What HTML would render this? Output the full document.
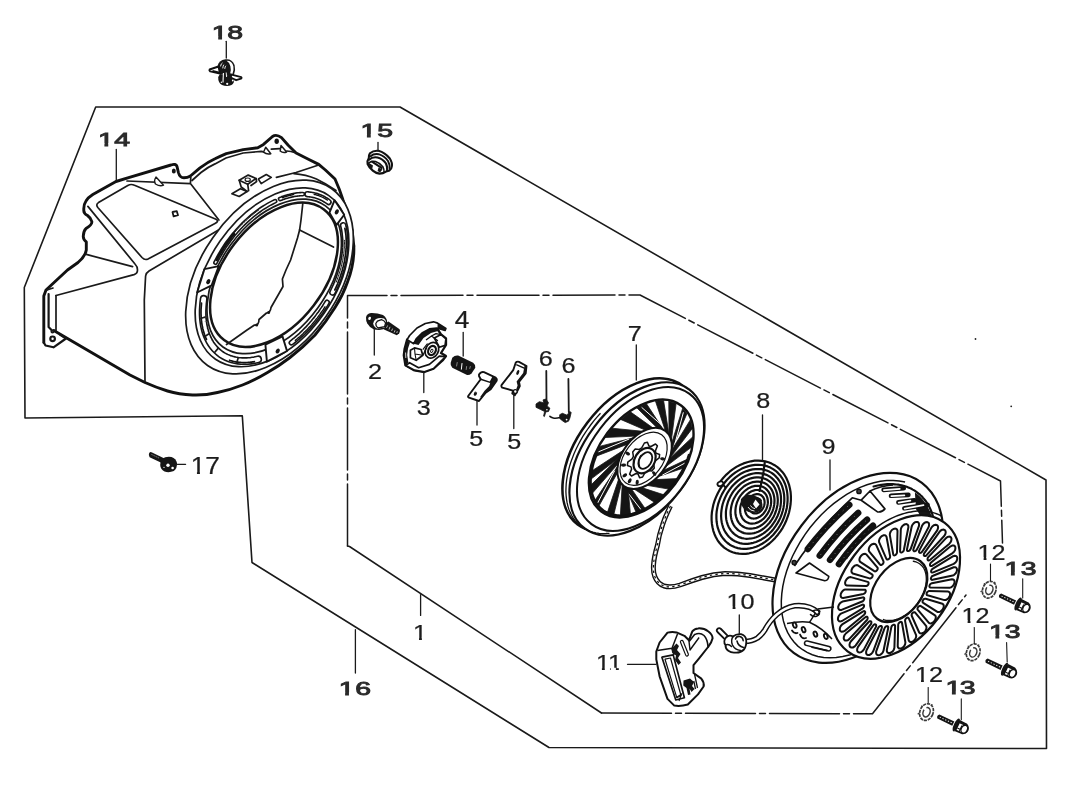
<!DOCTYPE html>
<html><head><meta charset="utf-8"><title>Recoil starter parts diagram</title>
<style>
html,body{margin:0;padding:0;background:#fff;}
body{width:1079px;height:799px;overflow:hidden;font-family:"Liberation Sans",sans-serif;}
svg{display:block;filter:grayscale(1);}
svg text{font-family:"Liberation Sans",sans-serif;fill:#1c1c1c;}
.l{fill:none;stroke:#1a1a1a;stroke-width:1.7;stroke-linecap:round;stroke-linejoin:round;}
.t{fill:none;stroke:#111;stroke-width:2.9;stroke-linecap:round;stroke-linejoin:round;}
.m{fill:none;stroke:#151515;stroke-width:2.2;stroke-linecap:round;stroke-linejoin:round;}
.h{fill:none;stroke:#222;stroke-width:0.9;stroke-linecap:round;stroke-linejoin:round;}
.f{fill:#151515;stroke:none;}
.w{fill:#fff;stroke:#1a1a1a;stroke-width:1.2;stroke-linejoin:round;}
</style></head>
<body>
<svg width="1079" height="799" viewBox="0 0 1079 799">
<rect x="0" y="0" width="1079" height="799" fill="#ffffff"/>
<!-- 00_borders.py -->
<path class="l" style="stroke-width:1.6" d="M95.7 107 L400 107 L1046 480 L1046.5 748.5 L549 747.5 L252 562.5 L242.3 415.8 L25 418 L24.3 287.5 Z"/>
<path class="l" style="stroke-width:1.5" stroke-dasharray="62 4 6 4" d="M347.5 546 L347.5 295.5 L640 295 L1000.5 481 L1002.5 543"/>
<path class="l" style="stroke-width:1.5" d="M347.5 546 L349.5 546.5 L601.5 713"/>
<path class="l" style="stroke-width:1.5" stroke-dasharray="70 4 6 4" d="M601.5 713 L872.5 713.8 L966 595"/>
<circle cx="975.5" cy="339" r="0.9" fill="#222"/><circle cx="1011.2" cy="406.3" r="0.9" fill="#222"/>
<!-- 10_housing.py -->
<path class="t" d="M43.8 342.5 L43.8 296 L46 290 L67.5 270 L78 262.5 Q85.5 256 86.3 250 L86.3 242 Q83 239.5 83.3 236 Q83.5 231 86 228.5 Q92.5 224.5 91.8 221.5 Q91 218 87.5 215.5 Q83.5 213.5 83.8 210 Q83.5 204.5 86 201 Q88 197.5 92.8 194.5 L116 181.5 L128.6 177.6 L171 165 Q176 163.3 177 166.5 L178.4 172.5 Q179.8 177.8 184 177.8 Q187.5 177.8 190.4 176 L200 167.8 Q208 162 215 158.8 Q220 156.3 226.3 153.6 L243.2 149.6 L257.8 147.7 L263.5 144.4 L272.5 136.5 Q276.4 133.8 281.5 137.6 L288.2 145.3 L296.1 153 L307.4 158.8 L318.7 164.4 L325.4 170 L335 179 Q340 190 343 200 L348 215 L352 230 L353.8 246"/>
<path class="t" d="M353.8 246 Q354.5 264 347.5 282 Q343 295 335 307.5 Q326 322 315 335 Q303 347.5 290 357.5 Q279 366 267.5 372.5 Q255 380 242.5 385 Q230 390 217.5 392.5 Q205 395.5 192.5 395 Q179 394.5 167.5 391 Q155 387 145 382.5 L130 375 L53.8 330.5"/>
<path class="m" d="M43.8 342.5 L45.5 345.5 L53.5 347.3 L66 338.5 L60 334.5"/>
<path class="m" d="M48.6 294 L48.6 327 L52 330.5"/><path class="l" d="M56 295.5 L56 330.5 L53.8 330.5"/>
<circle cx="52.6" cy="338.8" r="2.3" class="m"/><circle cx="52.5" cy="331.5" r="1.2" class="l"/>
<path class="l" d="M56 295.5 L134 274.6 Q137.5 273.5 137.5 270 Q137.5 266.5 135 264 L87.9 206.4"/>
<path class="l" d="M86.3 254.4 L132.6 266.6 M47 290 L53 288"/>
<path class="l" d="M145 381.5 L144.3 300 L145.6 276 Q146 272.8 149 271 L218.5 230"/>
<path class="l" d="M98.5 202.6 Q95.5 204.5 97.8 207.5 L142 257.5 Q144.8 260.5 148 259 L215 223.6 Q219.5 221.2 216 219.2 L134.5 185.3 Q131 183.6 127.8 185.5 Z"/>
<path class="l" d="M127 181 L190.4 183.6 L218.9 220 M190.4 183.6 L190.8 177"/>
<path d="M156 177 L163.5 185.2 Q160 186.8 155.5 184 Q153.5 181 156 177 Z" style="fill:#fff;stroke:#1a1a1a;stroke-width:1.4;stroke-linejoin:round"/>
<ellipse cx="173.8" cy="171" rx="2" ry="2.6" class="f"/>
<path d="M172.5 212 L176.8 211.2 L178 215.2 L173.6 216.4 Z" style="fill:none;stroke:#151515;stroke-width:1.8;stroke-linejoin:round"/>
<path class="l" d="M192 180.5 L201 172.5 Q208 167 215 163.9 L226 158 L243.2 153 L261.2 151.3 L263.5 151.8"/>
<path class="l" d="M271.3 149.2 L279.8 148.7 M286.8 151 L291 151.5 L296.1 153"/>
<path d="M265.7 147.3 L270.8 153.7 Q267 155 263.5 152.2 Z" style="fill:#fff;stroke:#1a1a1a;stroke-width:1.5;stroke-linejoin:round"/>
<path d="M281 145.6 L286.6 152 Q283 153.3 280.2 151 Z" style="fill:#fff;stroke:#1a1a1a;stroke-width:1.5;stroke-linejoin:round"/>
<ellipse cx="276.7" cy="141.3" rx="2.2" ry="2.7" class="f"/>
<path class="l" d="M276.4 177.4 L296 172.5 L318.7 165"/>
<path class="l" d="M293.9 173.6 Q306 174.5 316.4 179 Q326 183.5 336 190.5"/>
<path class="l" d="M231.9 193.7 L240.4 188.7 L247.1 191.5 L239.2 196.5 Z"/>
<path class="l" d="M258.4 179.1 L266.3 174.6 L271.3 177.4 L261.2 183.6 Z"/>
<path class="l" style="fill:#fff" d="M239.2 180.2 L248.2 175.1 L256.1 178.5 L247.7 184.2 Z"/>
<path class="l" d="M239.2 180.2 L241.2 187 L247.1 191.5 L248.6 190.6 L247.7 184.2 M256.1 178.5 L256.6 181.5 L251 185.5"/>
<ellipse cx="247.7" cy="179.7" rx="2.6" ry="1.7" class="l" style="stroke-width:1.2"/>
<ellipse cx="269.5" cy="277.0" rx="108.0" ry="69.0" transform="rotate(-55.0 269.5 277.0)" class="l" style="fill:#fff"/>
<ellipse cx="272.0" cy="277.3" rx="99.5" ry="63.3" transform="rotate(-55.4 272.0 277.3)" class="l" />
<ellipse cx="274.2" cy="276.4" rx="87.2" ry="53.8" transform="rotate(-54.0 274.2 276.4)" class="l" />
<ellipse cx="274.0" cy="274.8" rx="82.2" ry="50.2" transform="rotate(-52.6 274.0 274.8)" class="m" style="stroke-width:2.5"/>
<path class="l" d="M302.8 203.5 L301 220 L299.6 230 L297.5 238 L290.6 260 L286 270 L282.4 279 L283 286.5 L271 307.5 Q270.5 312.5 266.5 313 L259 319.5 Q259 325.5 254.5 325 L247 330 L226.5 344.5"/>
<path class="l" d="M299.6 230 L333.5 247"/>
<circle cx="268.6" cy="312.6" r="1.5" class="f"/><circle cx="256.7" cy="325" r="1.5" class="f"/>
<path d="M215.5 262.7 L216.9 260.0 L218.3 257.4 L219.8 254.8 L221.3 252.2 L222.9 249.6 L224.5 247.0 L226.2 244.5 L228.0 242.0 L229.8 239.6 L231.6 237.2 L233.5 234.8 L235.5 232.5 L237.4 230.3 L239.5 228.0 L241.5 225.9 L243.6 223.8 L245.7 221.7 L247.9 219.7 L250.0 217.8 L252.2 215.9 L254.5 214.1 L256.7 212.4 L259.0 210.7 L261.2 209.1 L263.5 207.6 L265.8 206.2 L268.2 204.8 L270.5 203.5 L272.8 202.3 L275.1 201.2" style="fill:none;stroke:#161616;stroke-width:4.8;stroke-linecap:round"/>
<path d="M215.5 262.7 L216.9 260.0 L218.3 257.4 L219.8 254.8 L221.3 252.2 L222.9 249.6 L224.5 247.0 L226.2 244.5 L228.0 242.0 L229.8 239.6 L231.6 237.2 L233.5 234.8 L235.5 232.5 L237.4 230.3 L239.5 228.0 L241.5 225.9 L243.6 223.8 L245.7 221.7 L247.9 219.7 L250.0 217.8 L252.2 215.9 L254.5 214.1 L256.7 212.4 L259.0 210.7 L261.2 209.1 L263.5 207.6 L265.8 206.2 L268.2 204.8 L270.5 203.5 L272.8 202.3 L275.1 201.2" style="fill:none;stroke:#fff;stroke-width:1.6;stroke-linecap:round"/>
<path d="M280.1 199.0 L280.9 198.7 L281.7 198.4 L282.4 198.1 L283.2 197.8 L284.0 197.6 L284.8 197.3 L285.6 197.0 L286.3 196.8 L287.1 196.6 L287.9 196.4 L288.7 196.2 L289.4 196.0 L290.2 195.8 L291.0 195.6 L291.7 195.4 L292.5 195.3 L293.3 195.1 L294.0 195.0 L294.8 194.8 L295.5 194.7 L296.3 194.6 L297.0 194.5 L297.8 194.4 L298.5 194.4 L299.2 194.3 L300.0 194.2 L300.7 194.2 L301.4 194.1 L302.2 194.1 L302.9 194.1" style="fill:none;stroke:#161616;stroke-width:4.8;stroke-linecap:round"/>
<path d="M280.1 199.0 L280.9 198.7 L281.7 198.4 L282.4 198.1 L283.2 197.8 L284.0 197.6 L284.8 197.3 L285.6 197.0 L286.3 196.8 L287.1 196.6 L287.9 196.4 L288.7 196.2 L289.4 196.0 L290.2 195.8 L291.0 195.6 L291.7 195.4 L292.5 195.3 L293.3 195.1 L294.0 195.0 L294.8 194.8 L295.5 194.7 L296.3 194.6 L297.0 194.5 L297.8 194.4 L298.5 194.4 L299.2 194.3 L300.0 194.2 L300.7 194.2 L301.4 194.1 L302.2 194.1 L302.9 194.1" style="fill:none;stroke:#fff;stroke-width:1.6;stroke-linecap:round"/>
<path d="M307.4 194.2 L308.2 194.3 L309.0 194.4 L309.8 194.5 L310.6 194.6 L311.3 194.7 L312.1 194.8 L312.9 195.0 L313.6 195.1 L314.4 195.3 L315.1 195.5 L315.9 195.7 L316.6 195.9 L317.4 196.2 L318.1 196.4 L318.8 196.7 L319.5 196.9 L320.2 197.2 L320.9 197.5 L321.6 197.8 L322.2 198.1 L322.9 198.5 L323.6 198.8 L324.2 199.2 L324.9 199.6 L325.5 200.0 L326.1 200.4 L326.8 200.8 L327.4 201.2 L328.0 201.6 L328.6 202.1" style="fill:none;stroke:#161616;stroke-width:6.4;stroke-linecap:round"/>
<path d="M307.4 194.2 L308.2 194.3 L309.0 194.4 L309.8 194.5 L310.6 194.6 L311.3 194.7 L312.1 194.8 L312.9 195.0 L313.6 195.1 L314.4 195.3 L315.1 195.5 L315.9 195.7 L316.6 195.9 L317.4 196.2 L318.1 196.4 L318.8 196.7 L319.5 196.9 L320.2 197.2 L320.9 197.5 L321.6 197.8 L322.2 198.1 L322.9 198.5 L323.6 198.8 L324.2 199.2 L324.9 199.6 L325.5 200.0 L326.1 200.4 L326.8 200.8 L327.4 201.2 L328.0 201.6 L328.6 202.1" style="fill:none;stroke:#fff;stroke-width:3.2;stroke-linecap:round"/>
<path d="M343.2 225.4 L343.6 227.2 L344.1 229.1 L344.4 231.1 L344.7 233.1 L344.9 235.1 L345.1 237.2 L345.3 239.3 L345.3 241.4 L345.3 243.6 L345.3 245.8 L345.2 248.0 L345.0 250.2 L344.8 252.5 L344.5 254.8 L344.2 257.1 L343.8 259.4 L343.3 261.7 L342.8 264.1 L342.2 266.4 L341.6 268.8 L340.9 271.1 L340.2 273.5 L339.4 275.9 L338.6 278.3 L337.7 280.7 L336.8 283.0 L335.8 285.4 L334.7 287.8 L333.6 290.1 L332.5 292.5" style="fill:none;stroke:#161616;stroke-width:6.8;stroke-linecap:round"/>
<path d="M343.2 225.4 L343.6 227.2 L344.1 229.1 L344.4 231.1 L344.7 233.1 L344.9 235.1 L345.1 237.2 L345.3 239.3 L345.3 241.4 L345.3 243.6 L345.3 245.8 L345.2 248.0 L345.0 250.2 L344.8 252.5 L344.5 254.8 L344.2 257.1 L343.8 259.4 L343.3 261.7 L342.8 264.1 L342.2 266.4 L341.6 268.8 L340.9 271.1 L340.2 273.5 L339.4 275.9 L338.6 278.3 L337.7 280.7 L336.8 283.0 L335.8 285.4 L334.7 287.8 L333.6 290.1 L332.5 292.5" style="fill:none;stroke:#fff;stroke-width:3.6;stroke-linecap:round"/>
<path d="M327.1 302.4 L326.1 304.0 L325.2 305.5 L324.2 307.1 L323.2 308.6 L322.1 310.1 L321.1 311.7 L320.0 313.2 L318.9 314.6 L317.8 316.1 L316.7 317.6 L315.6 319.0 L314.4 320.4 L313.2 321.9 L312.0 323.2 L310.8 324.6 L309.6 326.0 L308.4 327.3 L307.2 328.6 L305.9 329.9 L304.6 331.2 L303.4 332.5 L302.1 333.7 L300.8 334.9 L299.4 336.1 L298.1 337.3 L296.8 338.4 L295.5 339.5 L294.1 340.6 L292.7 341.7 L291.4 342.7" style="fill:none;stroke:#161616;stroke-width:5.8;stroke-linecap:round"/>
<path d="M327.1 302.4 L326.1 304.0 L325.2 305.5 L324.2 307.1 L323.2 308.6 L322.1 310.1 L321.1 311.7 L320.0 313.2 L318.9 314.6 L317.8 316.1 L316.7 317.6 L315.6 319.0 L314.4 320.4 L313.2 321.9 L312.0 323.2 L310.8 324.6 L309.6 326.0 L308.4 327.3 L307.2 328.6 L305.9 329.9 L304.6 331.2 L303.4 332.5 L302.1 333.7 L300.8 334.9 L299.4 336.1 L298.1 337.3 L296.8 338.4 L295.5 339.5 L294.1 340.6 L292.7 341.7 L291.4 342.7" style="fill:none;stroke:#fff;stroke-width:2.6;stroke-linecap:round"/>
<path d="M258.1 359.4 L254.6 360.1 L251.1 360.7 L247.7 361.0 L244.4 361.1 L241.2 361.0 L238.0 360.7 L234.9 360.2 L232.0 359.4 L229.1 358.5 L226.4 357.3 L223.7 356.0 L221.2 354.4 L218.9 352.7 L216.7 350.7 L214.6 348.6 L212.7 346.3 L210.9 343.8 L209.3 341.1 L207.9 338.3 L206.6 335.3 L205.5 332.2 L204.6 328.9 L203.8 325.5 L203.3 322.0 L202.9 318.4 L202.7 314.6 L202.7 310.8 L202.9 306.9 L203.2 302.9 L203.7 298.8" style="fill:none;stroke:#161616;stroke-width:8.0;stroke-linecap:round"/>
<path d="M258.1 359.4 L254.6 360.1 L251.1 360.7 L247.7 361.0 L244.4 361.1 L241.2 361.0 L238.0 360.7 L234.9 360.2 L232.0 359.4 L229.1 358.5 L226.4 357.3 L223.7 356.0 L221.2 354.4 L218.9 352.7 L216.7 350.7 L214.6 348.6 L212.7 346.3 L210.9 343.8 L209.3 341.1 L207.9 338.3 L206.6 335.3 L205.5 332.2 L204.6 328.9 L203.8 325.5 L203.3 322.0 L202.9 318.4 L202.7 314.6 L202.7 310.8 L202.9 306.9 L203.2 302.9 L203.7 298.8" style="fill:none;stroke:#fff;stroke-width:4.8;stroke-linecap:round"/>
<path d="M216.8 259.8 L217.3 258.9 L217.7 258.0 L218.2 257.1 L218.7 256.2 L219.2 255.3 L219.7 254.4 L220.3 253.5 L220.8 252.6 L221.3 251.7 L221.9 250.9 L222.4 250.0 L223.0 249.1 L223.5 248.2 L224.1 247.4 L224.6 246.5 L225.2 245.7 L225.8 244.8 L226.4 244.0 L227.0 243.1 L227.6 242.3 L228.2 241.4 L228.8 240.6 L229.4 239.8 L230.0 239.0 L230.7 238.1 L231.3 237.3 L231.9 236.5 L232.6 235.7 L233.2 234.9 L233.9 234.1" style="fill:none;stroke:#111;stroke-width:2.6;stroke-linecap:round"/>
<path d="M233.5 233.8 L234.3 232.9 L235.0 232.0 L235.8 231.1 L236.6 230.2 L237.4 229.3 L238.2 228.4 L239.0 227.5 L239.8 226.7 L240.6 225.8 L241.4 225.0 L242.2 224.1 L243.1 223.3 L243.9 222.5 L244.8 221.7 L245.6 220.9 L246.4 220.1 L247.3 219.3 L248.2 218.5 L249.0 217.8 L249.9 217.0 L250.8 216.3 L251.6 215.5 L252.5 214.8 L253.4 214.1 L254.3 213.4 L255.2 212.7 L256.1 212.0 L256.9 211.3 L257.8 210.7 L258.7 210.0" style="fill:none;stroke:#111;stroke-width:1.0;stroke-linecap:round"/>
<path d="M282.5 197.6 L282.9 197.4 L283.3 197.3 L283.6 197.2 L284.0 197.0 L284.4 196.9 L284.7 196.8 L285.1 196.7 L285.5 196.6 L285.9 196.4 L286.2 196.3 L286.6 196.2 L287.0 196.1 L287.3 196.0 L287.7 195.9 L288.1 195.8 L288.4 195.7 L288.8 195.6 L289.2 195.5 L289.6 195.4 L289.9 195.3 L290.3 195.2 L290.7 195.2 L291.0 195.1 L291.4 195.0 L291.7 194.9 L292.1 194.8 L292.5 194.8 L292.8 194.7 L293.2 194.6 L293.6 194.6" style="fill:none;stroke:#111;stroke-width:1.5;stroke-linecap:round"/>
<path d="M314.1 194.3 L314.6 194.5 L315.1 194.6 L315.6 194.7 L316.0 194.8 L316.5 195.0 L317.0 195.1 L317.5 195.3 L317.9 195.4 L318.4 195.6 L318.9 195.7 L319.3 195.9 L319.8 196.1 L320.2 196.3 L320.7 196.4 L321.1 196.6 L321.6 196.8 L322.0 197.0 L322.4 197.2 L322.9 197.5 L323.3 197.7 L323.7 197.9 L324.2 198.1 L324.6 198.4 L325.0 198.6 L325.4 198.8 L325.8 199.1 L326.2 199.3 L326.6 199.6 L327.0 199.9 L327.4 200.1" style="fill:none;stroke:#111;stroke-width:1.3;stroke-linecap:round"/>
<path d="M344.9 228.4 L345.2 230.2 L345.5 232.0 L345.8 233.8 L346.0 235.7 L346.1 237.6 L346.2 239.5 L346.3 241.5 L346.3 243.4 L346.3 245.4 L346.2 247.4 L346.0 249.4 L345.9 251.5 L345.6 253.6 L345.4 255.6 L345.0 257.7 L344.7 259.8 L344.3 262.0 L343.8 264.1 L343.3 266.2 L342.7 268.4 L342.2 270.5 L341.5 272.7 L340.8 274.9 L340.1 277.0 L339.3 279.2 L338.5 281.3 L337.7 283.5 L336.8 285.7 L335.8 287.8 L334.8 289.9" style="fill:none;stroke:#111;stroke-width:1.7;stroke-linecap:round"/>
<path d="M344.4 240.3 L344.4 241.6 L344.5 242.9 L344.4 244.2 L344.4 245.5 L344.4 246.8 L344.3 248.2 L344.2 249.5 L344.1 250.9 L343.9 252.3 L343.8 253.6 L343.6 255.0 L343.4 256.4 L343.1 257.8 L342.9 259.2 L342.6 260.6 L342.3 262.0 L342.0 263.5 L341.7 264.9 L341.4 266.3 L341.0 267.7 L340.6 269.2 L340.2 270.6 L339.7 272.0 L339.3 273.5 L338.8 274.9 L338.3 276.4 L337.8 277.8 L337.3 279.3 L336.7 280.7 L336.2 282.1" style="fill:none;stroke:#111;stroke-width:1.0;stroke-linecap:round"/>
<path d="M325.0 306.8 L324.2 308.1 L323.4 309.4 L322.5 310.7 L321.6 311.9 L320.7 313.2 L319.9 314.4 L318.9 315.6 L318.0 316.8 L317.1 318.1 L316.1 319.2 L315.2 320.4 L314.2 321.6 L313.3 322.8 L312.3 323.9 L311.3 325.1 L310.3 326.2 L309.2 327.3 L308.2 328.4 L307.2 329.5 L306.1 330.5 L305.1 331.6 L304.0 332.6 L303.0 333.7 L301.9 334.7 L300.8 335.7 L299.7 336.7 L298.6 337.6 L297.5 338.6 L296.4 339.5 L295.3 340.4" style="fill:none;stroke:#111;stroke-width:1.4;stroke-linecap:round"/>
<path d="M254.4 361.6 L253.5 361.8 L252.6 361.9 L251.7 362.1 L250.8 362.2 L250.0 362.3 L249.1 362.4 L248.2 362.4 L247.3 362.5 L246.5 362.5 L245.6 362.6 L244.8 362.6 L243.9 362.6 L243.1 362.6 L242.2 362.5 L241.4 362.5 L240.5 362.4 L239.7 362.4 L238.9 362.3 L238.1 362.2 L237.3 362.1 L236.5 362.0 L235.7 361.8 L234.9 361.7 L234.1 361.5 L233.3 361.3 L232.6 361.1 L231.8 360.9 L231.1 360.7 L230.3 360.5 L229.6 360.2" style="fill:none;stroke:#111;stroke-width:1.7;stroke-linecap:round"/>
<path d="M206.5 339.4 L206.1 338.4 L205.6 337.4 L205.2 336.3 L204.8 335.3 L204.4 334.2 L204.1 333.1 L203.7 332.1 L203.4 330.9 L203.1 329.8 L202.8 328.7 L202.6 327.5 L202.3 326.3 L202.1 325.2 L201.9 324.0 L201.7 322.7 L201.5 321.5 L201.4 320.3 L201.3 319.0 L201.2 317.8 L201.1 316.5 L201.1 315.2 L201.0 313.9 L201.0 312.6 L201.0 311.3 L201.0 310.0 L201.1 308.6 L201.2 307.3 L201.3 305.9 L201.4 304.6 L201.5 303.2" style="fill:none;stroke:#111;stroke-width:1.7;stroke-linecap:round"/>
<path class="l" d="M238.1 358.3 L236.6 362.9"/>
<path class="l" d="M217.9 348.6 L214.8 352.3"/>
<path class="l" d="M208.6 334.0 L204.6 336.6"/>
<path class="l" d="M205.1 317.0 L200.6 318.5"/>
<path d="M334.6 200.2 L344.2 214.7 L336.6 224.9 L329.5 212.6 Z" style="fill:#fff;stroke:#151515;stroke-width:1.9;stroke-linejoin:round"/>
<ellipse cx="336.8" cy="211.9" rx="1.9" ry="2.7" transform="rotate(30 336.8 211.9)" class="f"/>
<path d="M287.0 351.0 L266.9 361.7 L265.4 344.7 L282.5 336.4 Z" style="fill:#fff;stroke:#151515;stroke-width:1.9;stroke-linejoin:round"/>
<ellipse cx="277.7" cy="351.0" rx="1.9" ry="2.7" transform="rotate(30 277.7 351.0)" class="f"/>
<path d="M197.1 292.5 L204.4 269.1 L218.8 266.1 L211.6 285.3 Z" style="fill:#fff;stroke:#151515;stroke-width:1.9;stroke-linejoin:round"/>
<ellipse cx="208.3" cy="281.7" rx="1.9" ry="2.7" transform="rotate(30 208.3 281.7)" class="f"/>
<!-- 20_small_top.py -->
<g>
<path d="M217.6 66 Q218.5 60.5 225.5 59.3 Q232 58.6 234.6 65 Q236 70 233.8 75.2 L231 76.5 L219.5 74 Z" class="f"/>
<path d="M226.6 60.8 Q232.2 60.6 233.4 66.5 Q234 70.5 232.4 74 L230.2 73.2 Q231.3 69.5 230.4 66.2 Q229.3 62.3 226.6 60.8 Z" style="fill:#fff"/>
<path d="M220.6 66 Q221 63.5 222.2 63 M222.8 68 Q223 65.8 223.6 65 M224.8 68.5 Q225 66.5 225.6 66" style="fill:none;stroke:#fff;stroke-width:0.9;stroke-linecap:round"/>
<path d="M218.5 66.5 L209.6 69.5 Q209 70.6 210.2 71.4 L220 73.6 Z" style="fill:#fff;stroke:#111;stroke-width:1.9;stroke-linejoin:round"/>
<path d="M212.5 70.9 L219.5 72.6" style="stroke:#111;stroke-width:1.6"/>
<path d="M231.6 74.6 L241.2 77.2 Q242 78 241 78.7 L236.2 80.2 L230.4 77.6 Z" style="fill:#fff;stroke:#111;stroke-width:1.9;stroke-linejoin:round"/>
<path d="M218.2 77 Q218 83 222 85 Q227 87 231.5 85 Q234.5 83 234 79.5 L231 76 L220 74 Z" class="f"/>
<path d="M223.4 73 L223 82.5" style="stroke:#fff;stroke-width:1.1"/>
<path d="M226.2 72.5 L226.6 77" style="stroke:#fff;stroke-width:0.9"/>
<circle cx="227.2" cy="83.8" r="1.1" fill="#fff"/><circle cx="232.8" cy="80.5" r="0.9" fill="#fff"/><circle cx="221.4" cy="82.3" r="0.7" fill="#fff"/>
</g>
<path d="M370 153.2 Q373.5 150.2 378.5 150.8 Q385 152.5 389.8 158.5 Q392.6 163 391.8 166.5 Q391.5 169.5 389.6 170.4 L386 171.6 Q383 173.6 379.5 173.6 Q375.5 173 372.8 170.6 Q369 167.5 367.6 164 Q367 160.5 368.8 158 Q368.8 155 370 153.2 Z" style="fill:#fff;stroke:#111;stroke-width:2.1;stroke-linejoin:round"/>
<path d="M370.6 156.2 Q373.5 153.5 378.6 154.2 Q384.5 156 388 161 Q390 164.5 389.8 169" style="fill:none;stroke:#111;stroke-width:1.9;stroke-linecap:round"/>
<path d="M369 159.8 Q372.5 156.5 377.5 157.5 Q383 159 386 163.5 Q387.6 167 387.2 170.5" style="fill:none;stroke:#111;stroke-width:2.2;stroke-linecap:round"/>
<path d="M368.6 163.2 Q371.5 160.5 375.5 161.5 Q380.5 163.2 383 167 Q384.3 169.5 384 172" style="fill:none;stroke:#111;stroke-width:1.6;stroke-linecap:round"/>
<path d="M372 161.6 L381.5 167.8" style="stroke:#111;stroke-width:2.2;stroke-linecap:round"/>
<path d="M369 163 Q368.5 166.5 372 169.5 L373 165.5 Z" class="f"/>
<path d="M378.5 167.5 L382.5 169.5 L380 172.5 L377.6 171 Z" class="f"/>
<path d="M149.2 453 Q150.2 451.6 152 452.4 L164.5 458.4 L161.8 463 L149.6 457.2 Q148.2 455.4 149.2 453 Z" class="f"/>
<path d="M151.5 454.4 L159.5 458.3" style="stroke:#fff;stroke-width:0.7;stroke-dasharray:1.2 1.1;opacity:0.8"/>
<path d="M162 459 Q166 456 171.5 457 Q176 458.5 177 463 Q177.4 468 173.8 471 Q169 473 164.5 471.5 Q160.4 469 160.2 465 Q160.2 461.5 162 459 Z" class="f"/>
<circle cx="168" cy="465.2" r="1.7" fill="#fff"/><circle cx="172.6" cy="468" r="1.3" fill="#fff"/><circle cx="164" cy="467.4" r="0.6" fill="#fff"/>
<!-- 30_small_mid.py -->
<path d="M385 323.5 L388.5 321.5 L399.6 329.2 Q400.8 331.5 399.2 333.2 L396.8 335.2 L384 329.5 Z" class="f"/>
<path d="M387.6 325.5 L386.4 328 M390 326.8 L389 329.5 M392.6 328.6 L391.6 331 M395 330.3 L394.2 332.5 M397.3 331.3 L396.8 333" style="stroke:#fff;stroke-width:0.7;fill:none"/>
<path d="M366 317.5 Q366.5 313.5 371 313 Q377 312.8 383 315 Q387 318 387.2 322 L386 328.8 L379 330 L374 329.6 Q369.5 327.5 367.3 323.5 Q365.8 320.5 366 317.5 Z" class="f"/>
<path d="M376 319 Q380 317 384 318.6 Q386 320 386 322.5 L384.6 327.6 L377.5 328.8 Q373.6 327 373.2 323.5 Q373.4 320.5 376 319 Z" fill="#fff"/>
<path d="M377.4 321.2 L381.5 319.6 Q384.4 320.4 385.6 323 L384.6 326.6 L378 328 Q375.5 326 375.8 323.5 Z" style="fill:#fff;stroke:#111;stroke-width:1.3;stroke-linejoin:round"/>
<ellipse cx="369.6" cy="318.4" rx="1.3" ry="1.7" transform="rotate(25 369.6 318.4)" fill="#fff"/>
<path d="M407.1 339.6 L404.6 348.7 L403.8 355.3 L405.4 365.2 L414.5 370.4 L424.4 372 L433.5 368.7 L442.6 360.5 L446 356.1 L441 353 L446 345 L446 338.5 L441 334.4 L436.8 328 L422 333 Z" style="fill:#fff;stroke:#111;stroke-width:2.3;stroke-linejoin:round"/>
<path d="M413.7 343.7 L416.2 338.8 L422 333 L429.4 328.9 L436.8 328 L438 331 L431 333 L423.5 338 L418.5 345 Z" class="f"/>
<path d="M407.1 339.6 L409.6 335.5 L417 328 L425.3 323.5 L433.5 321.8 L437.6 323.1 L445.9 328.5 L445.1 330.5 L436.8 328 L429.4 328.9 L422 333 L416.2 338.8 L413.7 343.7 Z" style="fill:#fff;stroke:#111;stroke-width:1.7;stroke-linejoin:round"/>
<path d="M437.6 323.1 L445.9 328.5 L445.1 330.8 L437.5 328.2 Z" class="f"/>
<path d="M409.6 362.7 L418.6 367.7 L429.4 364.4 L439.3 356.1 L445.6 356.6 L433.5 368.5 L424.4 371.8 L414.5 370.2 L405.8 365.4 Z" style="fill:#fff;stroke:#111;stroke-width:1.7;stroke-linejoin:round"/>
<path d="M405.4 364.5 L409.6 362.7 L418.6 367.7 L429.4 364.4 L428 362.5 L418.6 365.2 L410.5 360.8 L405.5 359.5 Z" class="f" style="opacity:0.0"/>
<path d="M407.1 339.6 L404.6 348.7 L403.8 355.3 L405.4 365.2 L408.4 362.5 L407.2 355 L408 348.5 L410 342.5 Z" class="f"/>
<path d="M405.6 352.5 L405.8 358" style="stroke:#fff;stroke-width:0.8"/>
<path d="M410.4 350.3 L414.5 347.9 L421.1 349.5 L422.8 355.3 L416.2 360.3 L410.4 357.8 Z" style="fill:#fff;stroke:#111;stroke-width:1.7;stroke-linejoin:round"/>
<path d="M414.5 347.9 L415 354 L416.2 360.3 M415 354 L422.8 355.3" style="fill:none;stroke:#111;stroke-width:1.1"/>
<path d="M434.3 338 L441 334.6 L445.9 338.8 L445.1 345.4 L439.3 347.2 Z" style="fill:#fff;stroke:#111;stroke-width:1.7;stroke-linejoin:round"/>
<path d="M426 340 L431.5 336 L437.5 340.5 L434.3 338 M431.5 336 L436 333.6 L441 334.6" style="fill:none;stroke:#111;stroke-width:1.3;stroke-linejoin:round"/>
<ellipse cx="431.9" cy="350.3" rx="6.4" ry="8.2" transform="rotate(28 431.9 350.3)" style="fill:#fff;stroke:#111;stroke-width:1.7;stroke-linejoin:round"/>
<ellipse cx="432" cy="350.5" rx="3.6" ry="4.8" transform="rotate(28 432 350.5)" style="fill:#fff;stroke:#111;stroke-width:2.2"/>
<ellipse cx="431.8" cy="350.8" rx="1.1" ry="1.7" transform="rotate(28 431.8 350.8)" style="fill:#fff;stroke:#111;stroke-width:0.9"/>
<path d="M423 355.3 Q424.5 351 427 347.5 M422.8 349.6 L427.5 343.5" style="fill:none;stroke:#111;stroke-width:1.2"/>
<path d="M452.3 357.7 Q455 355 458.2 355.6 L473.2 362.7 Q476 365 475.3 367.7 L471.5 373.5 Q469 375.6 466.5 374.8 L452.3 367.7 Q450 365.5 450.7 362.7 Z" class="f"/>
<path d="M462 363.5 L461.4 369.2" style="stroke:#fff;stroke-width:1.0;stroke-linecap:round"/>
<path d="M457.2 362.5 L456.6 366 M466.6 366.5 L466.2 369.5 M470.3 366.5 L469.8 368.5" style="stroke:#fff;stroke-width:0.6;stroke-linecap:round;opacity:0.8"/>
<path d="M479.8 373.5 Q481.5 371.6 484 372.2 L495.7 377.7 Q497.4 379 496.5 381 L490.7 389.3 L485.7 392.7 L479 401 L469 397.7 Q467.6 396.8 468.2 396 L480.7 379.3 L479 376 Q478.6 374.6 479.8 373.5 Z" style="fill:#fff;stroke:#111;stroke-width:1.9;stroke-linejoin:round"/>
<path d="M493.2 376.8 L495.7 377.9 Q497.2 379 496.5 381 L490.7 389.3 L485.7 392.7 L481.5 398 L480.2 397 L484.6 390.8 L489.2 386 L490.8 381.2 Z" class="f"/>
<path d="M480.7 379.3 L490.2 382.4 L493 377.2" style="fill:none;stroke:#111;stroke-width:1.5;stroke-linejoin:round"/>
<ellipse cx="475.4" cy="393.6" rx="1.5" ry="2.3" transform="rotate(25 475.4 393.6)" class="f"/>
<circle cx="476.2" cy="391.8" r="0.8" fill="#fff"/>
<path d="M515.7 362.7 Q517 361.2 519 361.8 L526.5 366 L525.7 373.5 L519 381.8 L519.8 386 L517.3 391 L514.8 395.2 L512.3 393.5 L513 390.6 L502.3 387.7 Q501 386.6 501.5 385.2 L513.2 370.2 Z" style="fill:#fff;stroke:#111;stroke-width:1.9;stroke-linejoin:round"/>
<path d="M524.6 365.2 L526.5 366.2 L525.7 373.5 L519 381.8 L519.8 386 L517.3 391 L516.3 389 L517.6 385.5 L516.6 381.5 L523.2 373 Z" class="f"/>
<path d="M516.3 364.6 L524.2 368.2" style="fill:none;stroke:#111;stroke-width:1.4"/>
<ellipse cx="517.8" cy="372.4" rx="1.3" ry="2.6" transform="rotate(22 517.8 372.4)" class="f"/>
<circle cx="515.3" cy="391.5" r="1.9" style="fill:#fff;stroke:#111;stroke-width:1.4"/>
<path d="M536 404 L539.3 401.7 L543.9 402.7 L543 399.9 L545.8 399 L548.5 402.7 L547.1 405.9 L549.9 408.2 L548.5 411.5 L545.8 411.9 L544.4 416.6 L543.6 416.1 L544.6 411.5 L540.7 409.6 L536 407.3 Z" class="f" style="stroke:#151515;stroke-width:0.8;stroke-linejoin:round"/>
<circle cx="546.9" cy="409.8" r="0.8" fill="#fff"/>
<path d="M559.7 414.7 L562.4 413.3 L567.1 415.2 L569.6 411.5 L571.2 412.4 L569.9 418 L568.5 421.2 L565.2 422.6 L562.4 420.7 L559.7 418.4 Z" class="f" style="stroke:#151515;stroke-width:0.8;stroke-linejoin:round"/>
<path d="M560 417.5 Q556 418.6 553.2 418 Q551 417.5 549.9 416.4" style="fill:none;stroke:#151515;stroke-width:1.6;stroke-linecap:round"/>
<circle cx="566.6" cy="419.6" r="0.9" fill="#fff"/>
<!-- 40_pulley.py -->
<ellipse cx="630.0" cy="455.0" rx="87.0" ry="53.5" transform="rotate(-53 630.0 455.0)" style="fill:#fff;stroke:#111;stroke-width:2.6"/>
<ellipse cx="637.0" cy="459.0" rx="87.0" ry="53.5" transform="rotate(-53 637.0 459.0)" style="fill:#fff;stroke:#111;stroke-width:2.2"/>
<path d="M609.5 533.3 L606.0 533.5 L602.5 533.6 L599.2 533.3 L595.9 532.9 L592.8 532.1 L589.8 531.2 L587.0 530.0 L584.3 528.6 L581.7 526.9 L579.3 525.0 L577.1 522.9 L575.1 520.6 L573.3 518.1 L571.6 515.3 L570.2 512.4 L568.9 509.4 L567.9 506.1 L567.1 502.7 L566.5 499.1 L566.1 495.4 L565.9 491.6 L566.0 487.7 L566.2 483.7 L566.7 479.6 L567.4 475.4 L568.3 471.1 L569.4 466.8 L570.7 462.5 L572.3 458.2 L574.0 453.8 L575.9 449.5 L578.0 445.2 L580.3 440.9 L582.7 436.7 L585.3 432.6 L588.1 428.5 L591.0 424.5 L594.0 420.6 L597.2 416.9 L600.5 413.2" style="fill:none;stroke:#111;stroke-width:1.3"/>
<ellipse cx="640.5" cy="459.0" rx="81.5" ry="50.5" transform="rotate(-53 640.5 459.0)" style="fill:#fff;stroke:#111;stroke-width:2.0"/>
<ellipse cx="641.2" cy="458.5" rx="66.3" ry="42.4" transform="rotate(-53 641.2 458.5)" style="fill:#fff;stroke:#111;stroke-width:2.4"/>
<path d="M682.7 408.2 L671.7 442.9 L671.6 449.5 L687.0 413.4 Z" style="fill:#151515;stroke:#151515;stroke-width:0.8;stroke-linejoin:round"/>
<path d="M683.4 412.3 L674.6 444.9" style="stroke:#fff;stroke-width:1.0"/>
<path d="M690.3 419.9 L671.6 450.3 L669.4 458.7 L692.3 428.5 Z" style="fill:#151515;stroke:#151515;stroke-width:0.8;stroke-linejoin:round"/>
<path d="M692.7 436.9 L669.4 458.7 L665.4 467.0 L691.5 447.1 Z" style="fill:#151515;stroke:#151515;stroke-width:0.8;stroke-linejoin:round"/>
<path d="M688.2 458.8 L663.1 470.6 L658.0 476.7 L684.4 467.7 Z" style="fill:#151515;stroke:#151515;stroke-width:0.8;stroke-linejoin:round"/>
<path d="M684.8 463.1 L662.3 475.2" style="stroke:#fff;stroke-width:1.0"/>
<path d="M678.1 478.6 L655.0 479.6 L646.8 485.3 L670.0 489.3 Z" style="fill:#151515;stroke:#151515;stroke-width:0.8;stroke-linejoin:round"/>
<path d="M664.6 495.0 L641.6 487.6 L634.0 489.0 L655.4 502.9 Z" style="fill:#151515;stroke:#151515;stroke-width:0.8;stroke-linejoin:round"/>
<path d="M645.6 509.2 L631.5 488.9 L625.7 487.1 L636.5 513.3 Z" style="fill:#151515;stroke:#151515;stroke-width:0.8;stroke-linejoin:round"/>
<path d="M641.0 509.6 L626.8 491.3" style="stroke:#fff;stroke-width:1.0"/>
<path d="M630.5 515.1 L628.1 488.1 L622.2 484.5 L620.3 516.4 Z" style="fill:#151515;stroke:#151515;stroke-width:0.8;stroke-linejoin:round"/>
<path d="M613.5 515.7 L621.4 483.7 L618.7 479.0 L607.0 513.7 Z" style="fill:#151515;stroke:#151515;stroke-width:0.8;stroke-linejoin:round"/>
<path d="M598.2 507.3 L617.4 472.9 L617.7 466.1 L594.2 501.6 Z" style="fill:#151515;stroke:#151515;stroke-width:0.8;stroke-linejoin:round"/>
<path d="M597.6 503.0 L614.7 470.7" style="stroke:#fff;stroke-width:1.0"/>
<path d="M591.3 494.5 L618.2 463.6 L620.8 455.6 L589.8 486.1 Z" style="fill:#151515;stroke:#151515;stroke-width:0.8;stroke-linejoin:round"/>
<path d="M589.7 480.1 L620.2 457.0 L623.6 450.1 L590.6 471.7 Z" style="fill:#151515;stroke:#151515;stroke-width:0.8;stroke-linejoin:round"/>
<path d="M594.8 456.7 L627.6 444.2 L633.9 437.6 L599.5 446.4 Z" style="fill:#151515;stroke:#151515;stroke-width:0.8;stroke-linejoin:round"/>
<path d="M598.5 451.8 L629.2 439.0" style="stroke:#fff;stroke-width:1.0"/>
<path d="M604.9 437.5 L635.6 436.1 L642.8 431.3 L612.0 428.2 Z" style="fill:#151515;stroke:#151515;stroke-width:0.8;stroke-linejoin:round"/>
<path d="M620.6 419.4 L645.2 430.1 L653.1 428.0 L630.3 411.8 Z" style="fill:#151515;stroke:#151515;stroke-width:0.8;stroke-linejoin:round"/>
<path d="M636.8 407.8 L657.2 427.9 L663.4 429.6 L646.3 403.5 Z" style="fill:#151515;stroke:#151515;stroke-width:0.8;stroke-linejoin:round"/>
<path d="M641.6 407.3 L662.0 425.4" style="stroke:#fff;stroke-width:1.0"/>
<path d="M655.5 401.2 L665.4 430.9 L669.1 435.1 L663.6 400.6 Z" style="fill:#151515;stroke:#151515;stroke-width:0.8;stroke-linejoin:round"/>
<path d="M668.8 401.2 L669.0 434.8 L671.3 440.8 L676.1 403.6 Z" style="fill:#151515;stroke:#151515;stroke-width:0.8;stroke-linejoin:round"/>
<path d="M689.3 454.2 L687.7 459.0 L685.8 463.7 L683.6 468.4 L681.1 473.0 L678.3 477.5 L675.3 481.9 L672.1 486.2 L668.6 490.2 L664.9 494.1 L661.1 497.6 L657.2 501.0 L653.1 504.0 L649.0 506.7 L644.8 509.1 L640.5 511.1 L636.3 512.8 L632.2 514.1 L628.0 515.0 L624.0 515.5 L620.1 515.7 L616.4 515.4 L612.8 514.8 L609.4 513.7 L606.2 512.3 L603.3 510.5 L600.6 508.4 L598.3 505.9 L596.2 503.1 L594.4 500.0 L592.9 496.6 L591.8 492.9 L591.0 489.0 L590.6 484.9 L590.5 480.7 L590.8 476.2 L591.4 471.6 L592.4 467.0 L593.6 462.3 L595.3 457.5 L597.2 452.8" style="fill:none;stroke:#111;stroke-width:2.6"/>
<ellipse cx="644.6" cy="458.4" rx="34.5" ry="22.1" transform="rotate(-53 644.6 458.4)" style="fill:#fff;stroke:#111;stroke-width:2.0"/>
<ellipse cx="643.6" cy="458.8" rx="30.0" ry="19.0" transform="rotate(-53 643.6 458.8)" style="fill:none;stroke:#111;stroke-width:1.2"/>
<path d="M655.5 444.0 L657.4 445.9 L655.4 450.9 L656.0 453.1 L659.6 454.5 L659.2 457.8 L654.9 461.1 L653.6 463.7 L654.3 468.1 L651.8 471.0 L647.7 470.6 L645.3 472.2 L642.6 477.0 L639.6 477.8 L638.0 473.9 L636.0 473.5 L631.5 476.0 L629.6 474.1 L631.6 469.1 L631.0 466.9 L627.4 465.5 L627.8 462.2 L632.1 458.9 L633.4 456.3 L632.7 451.9 L635.2 449.0 L639.3 449.4 L641.7 447.8 L644.4 443.0 L647.4 442.2 L649.0 446.1 L651.0 446.5 Z" style="fill:#fff;stroke:#111;stroke-width:1.5;stroke-linejoin:round"/>
<ellipse cx="637.2" cy="482.4" rx="2.6" ry="1.6" transform="rotate(97 637.2 482.4)" class="f"/>
<ellipse cx="629.7" cy="480.8" rx="2.6" ry="1.6" transform="rotate(122 629.7 480.8)" class="f"/>
<ellipse cx="624.8" cy="475.3" rx="2.6" ry="1.6" transform="rotate(147 624.8 475.3)" class="f"/>
<ellipse cx="623.5" cy="465.1" rx="2.6" ry="1.6" transform="rotate(177 623.5 465.1)" class="f"/>
<ellipse cx="627.6" cy="453.5" rx="2.6" ry="1.6" transform="rotate(207 627.6 453.5)" class="f"/>
<ellipse cx="654.2" cy="473.5" rx="2.6" ry="1.6" transform="rotate(47 654.2 473.5)" class="f"/>
<ellipse cx="662.7" cy="458.8" rx="2.6" ry="1.6" transform="rotate(7 662.7 458.8)" class="f"/>
<ellipse cx="644.6" cy="460.6" rx="13.6" ry="10" transform="rotate(-58 644.6 460.6)" style="fill:#fff;stroke:#111;stroke-width:2.2"/>
<ellipse cx="645.3" cy="460.5" rx="9" ry="6" transform="rotate(-58 645.3 460.5)" style="fill:#fff;stroke:#111;stroke-width:1.8"/>
<path d="M639.6 466.5 Q637.6 461 641 455" style="fill:none;stroke:#111;stroke-width:1.4"/>
<!-- 50_spring.py -->
<path d="M718.0 484.6 L720.6 481.1 L723.4 477.7 L726.4 474.6 L729.6 471.7 L733.0 469.2 L736.4 466.9 L740.0 465.0 L743.6 463.4 L747.3 462.2 L750.9 461.3 L754.6 460.7 L758.2 460.6 L761.7 460.8 L765.1 461.4 L768.5 462.3 L771.6 463.6 L774.6 465.2 L777.4 467.1 L780.0 469.4 L782.3 471.9 L784.4 474.7 L786.2 477.8 L787.7 481.1 L789.0 484.6 L789.9 488.2 L790.6 492.0 L790.9 496.0 L790.9 500.0 L790.6 504.0 L790.0 508.1 L789.1 512.2 L787.9 516.2 L786.4 520.2 L784.7 524.0 L782.7 527.8 L780.4 531.3 L777.9 534.7 L775.2 537.9 L772.4 540.8 L769.4 543.5 L766.2 545.9 L762.9 548.1 L759.5 549.9 L756.1 551.4 L752.7 552.5 L749.2 553.3 L745.7 553.8 L742.3 553.9 L739.0 553.7 L735.7 553.1 L732.6 552.2 L729.6 551.0 L726.8 549.4 L724.2 547.6 L721.8 545.4 L719.6 543.0 L717.6 540.3 L715.9 537.3 L714.5 534.2 L713.3 530.8 L712.5 527.3 L711.9 523.7 L711.6 520.0 L711.6 516.1 L711.9 512.3 L712.6 508.4 L713.4 504.5 L714.6 500.7 L716.1 496.9 L717.8 493.2 L719.7 489.7 L721.9 486.3 L724.3 483.0 L726.8 480.0 L729.6 477.2 L732.5 474.7 L735.5 472.4 L738.7 470.4 L741.9 468.6 L745.1 467.2 L748.5 466.1 L751.8 465.4 L755.1 464.9 L758.3 464.8 L761.5 465.0 L764.6 465.5 L767.6 466.4 L770.4 467.6 L773.1 469.1 L775.6 470.8 L777.9 472.9 L780.0 475.2 L781.9 477.8 L783.5 480.5 L784.9 483.5 L786.0 486.7 L786.8 490.0 L787.3 493.4 L787.6 497.0 L787.6 500.6 L787.3 504.3 L786.8 507.9 L785.9 511.6 L784.8 515.2 L783.5 518.8 L781.9 522.3 L780.0 525.6 L778.0 528.8 L775.7 531.8 L773.3 534.7 L770.7 537.3 L768.0 539.7 L765.1 541.9 L762.2 543.7 L759.1 545.4 L756.1 546.7 L752.9 547.7 L749.8 548.4 L746.7 548.8 L743.7 548.9 L740.7 548.7 L737.8 548.1 L735.0 547.3 L732.3 546.1 L729.8 544.7 L727.5 543.0 L725.3 541.0 L723.4 538.8 L721.6 536.4 L720.1 533.7 L718.9 530.9 L717.8 527.9 L717.1 524.7 L716.6 521.5 L716.4 518.1 L716.4 514.7 L716.7 511.2 L717.3 507.7 L718.1 504.2 L719.2 500.8 L720.5 497.4 L722.0 494.1 L723.8 491.0 L725.7 487.9 L727.9 485.1 L730.2 482.4 L732.7 479.9 L735.3 477.6 L738.0 475.6 L740.8 473.8 L743.7 472.3 L746.7 471.1 L749.6 470.1 L752.6 469.4 L755.5 469.1 L758.4 469.0 L761.3 469.2 L764.0 469.7 L766.7 470.5 L769.2 471.6 L771.6 472.9 L773.8 474.5 L775.8 476.4 L777.7 478.5 L779.3 480.8 L780.8 483.3 L782.0 485.9 L782.9 488.8 L783.6 491.7 L784.1 494.8 L784.3 498.0 L784.3 501.2 L784.0 504.4 L783.5 507.7 L782.7 511.0 L781.7 514.2 L780.5 517.4 L779.1 520.4 L777.4 523.4 L775.6 526.2 L773.6 528.9 L771.4 531.4 L769.1 533.8 L766.7 535.9 L764.1 537.8 L761.5 539.4 L758.8 540.8 L756.0 542.0 L753.3 542.8 L750.5 543.4 L747.8 543.8 L745.1 543.8 L742.4 543.6 L739.8 543.1 L737.4 542.3 L735.0 541.3 L732.8 540.0 L730.8 538.5 L728.9 536.7 L727.2 534.7 L725.6 532.5 L724.3 530.2 L723.2 527.6 L722.4 525.0 L721.7 522.2 L721.3 519.3 L721.1 516.3 L721.2 513.2 L721.5 510.2 L722.0 507.1 L722.7 504.0 L723.7 501.0 L724.9 498.0 L726.3 495.1 L727.8 492.3 L729.6 489.7 L731.5 487.1 L733.6 484.8 L735.8 482.6 L738.1 480.6 L740.5 478.9 L743.0 477.3 L745.5 476.0 L748.1 474.9 L750.7 474.1 L753.3 473.5 L755.9 473.2 L758.5 473.2 L761.0 473.4 L763.4 473.9 L765.7 474.6 L767.9 475.6 L770.0 476.8 L771.9 478.2 L773.7 479.9 L775.3 481.7 L776.8 483.7 L778.0 485.9 L779.0 488.3 L779.9 490.8 L780.5 493.4 L780.9 496.1 L781.0 498.9 L781.0 501.7 L780.7 504.6 L780.3 507.5 L779.6 510.3 L778.7 513.1 L777.6 515.9 L776.3 518.6 L774.9 521.2 L773.2 523.6 L771.5 526.0 L769.5 528.2 L767.5 530.2 L765.4 532.0 L763.1 533.6 L760.8 535.0 L758.5 536.2 L756.1 537.2 L753.7 538.0 L751.2 538.5 L748.8 538.7 L746.5 538.8 L744.2 538.5 L742.0 538.1 L739.8 537.4 L737.8 536.4 L735.9 535.3 L734.1 533.9 L732.5 532.4 L731.0 530.6 L729.7 528.7 L728.6 526.7 L727.6 524.4 L726.9 522.1 L726.3 519.7 L726.0 517.1 L725.9 514.5 L725.9 511.9 L726.2 509.2 L726.7 506.5 L727.4 503.9 L728.2 501.2 L729.3 498.7 L730.5 496.1 L731.9 493.7 L733.4 491.4 L735.1 489.3 L736.9 487.2 L738.8 485.4 L740.8 483.7 L742.9 482.2 L745.1 480.8 L747.3 479.7 L749.5 478.8 L751.8 478.1 L754.0 477.7 L756.3 477.4 L758.5 477.4 L760.6 477.6 L762.7 478.0 L764.7 478.7 L766.6 479.5 L768.4 480.6 L770.1 481.8 L771.6 483.3 L773.0 484.9 L774.2 486.7 L775.2 488.6 L776.1 490.6 L776.8 492.8 L777.3 495.0 L777.6 497.4 L777.8 499.8 L777.7 502.2 L777.5 504.7 L777.0 507.1 L776.4 509.6 L775.6 512.0 L774.7 514.4 L773.6 516.7 L772.3 518.9 L770.9 521.0 L769.4 523.0 L767.7 524.8 L766.0 526.5 L764.1 528.1 L762.2 529.5 L760.2 530.7 L758.2 531.7 L756.1 532.5 L754.1 533.1 L752.0 533.5 L750.0 533.7 L748.0 533.7 L746.0 533.5 L744.1 533.1 L742.3 532.4 L740.6 531.6 L738.9 530.6 L737.4 529.5 L736.1 528.1 L734.8 526.6 L733.7 525.0 L732.8 523.2 L732.0 521.3 L731.4 519.3 L731.0 517.2 L730.7 515.0 L730.6 512.8 L730.7 510.6 L731.0 508.3 L731.4 506.0 L732.0 503.7 L732.7 501.5 L733.6 499.3 L734.7 497.2 L735.9 495.2 L737.2 493.3 L738.6 491.4 L740.2 489.7 L741.8 488.2 L743.5 486.7 L745.3 485.5 L747.1 484.4 L749.0 483.5 L750.9 482.7 L752.8 482.1 L754.7 481.8 L756.6 481.6 L758.4 481.6 L760.3 481.8 L762.0 482.2 L763.7 482.7 L765.3 483.5 L766.8 484.4 L768.1 485.5 L769.4 486.7 L770.6 488.1 L771.6 489.6 L772.4 491.2 L773.1 492.9 L773.7 494.7 L774.1 496.6 L774.4 498.6 L774.5 500.6 L774.4 502.6 L774.2 504.7 L773.8 506.8 L773.3 508.8 L772.6 510.8 L771.8 512.8 L770.8 514.7 L769.8 516.5 L768.6 518.3 L767.3 519.9 L765.9 521.5 L764.4 522.9 L762.9 524.1 L761.3 525.3 L759.7 526.2 L758.0 527.1 L756.3 527.7 L754.5 528.2 L752.8 528.5 L751.1 528.7 L749.5 528.6 L747.9 528.4 L746.3 528.1 L744.8 527.5 L743.4 526.8 L742.1 526.0 L740.8 525.0 L739.7 523.9 L738.7 522.6 L737.8 521.2 L737.1 519.7 L736.5 518.2 L736.0 516.5 L735.6 514.8 L735.4 513.0 L735.4 511.1 L735.5 509.3 L735.7 507.4 L736.1 505.5 L736.6 503.7 L737.2 501.9 L738.0 500.1 L738.8 498.3 L739.8 496.7 L740.9 495.1 L742.1 493.6 L743.4 492.3 L744.7 491.0 L746.2 489.8 L747.6 488.8 L749.1 487.9 L750.7 487.2 L752.2 486.6 L753.8 486.2 L755.3 485.9 L756.9 485.8 L758.4 485.8 L759.8 486.0 L761.2 486.3 L762.6 486.8 L763.9 487.4 L765.1 488.2 L766.2 489.1 L767.2 490.1 L768.1 491.2 L768.9 492.4 L769.6 493.7 L770.2 495.2 L770.6 496.6 L770.9 498.2 L771.1 499.8 L771.2 501.4 L771.1 503.0 L770.9 504.7 L770.6 506.3 L770.1 508.0 L769.6 509.6 L768.9 511.2 L768.1 512.7 L767.3 514.2 L766.3 515.5 L765.3 516.8 L764.2 518.1 L763.0 519.2 L761.7 520.2 L760.4 521.0 L759.1 521.8 L757.8 522.4 L756.4 522.9 L755.1 523.3 L753.7 523.5 L752.4 523.6 L751.1 523.6 L749.8 523.4 L748.5 523.1 L747.4 522.6 L746.3 522.0 L745.2 521.4 L744.3 520.5 L743.4 519.6 L742.6 518.6 L742.0 517.5 L741.4 516.3 L740.9 515.1 L740.6 513.8 L740.3 512.4 L740.2 511.0 L740.1 509.5 L740.2 508.1 L740.4 506.6 L740.7 505.1 L741.2 503.7 L741.7 502.3 L742.3 500.9 L743.0 499.5 L743.8 498.2 L744.7 497.0 L745.6 495.9 L746.6 494.8 L747.7 493.8 L748.8 493.0 L749.9 492.2 L751.1 491.5 L752.3 491.0 L753.5 490.6 L754.7 490.2 L755.9 490.0 L757.1 490.0 L758.2 490.0 L759.4 490.2 L760.4 490.4 L761.5 490.8 L762.5 491.3 L763.4 491.9 L764.2 492.6 L765.0 493.4 L765.7 494.3 L766.3 495.2 L766.8 496.3 L767.2 497.3 L767.5 498.5 L767.7 499.7 L767.8 500.9 L767.9 502.1 L767.8 503.4 L767.6 504.6 L767.4 505.9 L767.0 507.1 L766.6 508.3 L766.1 509.5 L765.5 510.6 L764.8 511.7 L764.1 512.8 L763.3 513.7 L762.4 514.6 L761.5 515.4 L760.6 516.1 L759.6 516.8 L758.6 517.3 L757.6 517.8 L756.6 518.1 L755.6 518.4 L754.6 518.5 L753.6 518.6 L752.7 518.5 L751.7 518.3 L750.8 518.1 L750.0 517.7 L749.2 517.3 L748.4 516.8 L747.7 516.1 L747.1 515.4 L746.6 514.7 L746.1 513.9 L745.7 513.0 L745.4 512.0 L745.1 511.1 L745.0 510.1 L744.9 509.0 L744.9 508.0 L745.0 506.9 L745.2 505.8 L745.4 504.8 L745.7 503.7 L746.1 502.7 L746.6 501.7 L747.1 500.7 L747.7 499.8 L748.3 499.0 L749.0 498.2 L749.8 497.4 L750.5 496.7 L751.3 496.1 L752.2 495.6 L753.0 495.2 L753.9 494.8 L754.7 494.5 L755.6 494.3 L756.4 494.2 L757.3 494.2 L758.1 494.2 L758.9 494.3 L759.6 494.6 L760.3 494.8 L761.0 495.2 L761.6 495.7 L762.2 496.2 L762.7 496.7 L763.2 497.3 L763.6 498.0 L763.9 498.7 L764.2 499.5 L764.4 500.3 L764.5 501.1 L764.6 501.9 L764.6 502.8 L764.5 503.6 L764.4 504.5 L764.2 505.3 L763.9 506.2 L763.6 507.0 L763.2 507.8 L762.8 508.5 L762.4 509.2 L761.9 509.9 L761.3 510.5 L760.7 511.1 L760.1 511.6 L759.5 512.1 L758.9 512.5 L758.2 512.8 L757.6 513.1 L756.9 513.3 L756.2 513.4 L755.6 513.5 L754.9 513.5 L754.3 513.4 L753.7 513.3 L753.2 513.1 L752.6 512.9 L752.1 512.5 L751.7 512.2 L751.2 511.8 L750.9 511.3 L750.5 510.8 L750.3 510.2 L750.0 509.7 L749.9 509.0 L749.7 508.4 L749.7 507.8 L749.6 507.1 L749.7 506.4 L749.8 505.8 L749.9 505.1 L750.1 504.5 L750.3 503.8 L750.6 503.2 L750.9 502.6 L751.2 502.0 L751.6 501.5 L752.0 501.0 L752.4 500.5 L752.9 500.1 L753.4 499.7 L753.9 499.3 L754.4 499.0 L754.9 498.8 L755.4 498.6 L755.9 498.5 L756.4 498.4 L756.9 498.3 L757.4 498.3 L757.9 498.4 L758.3 498.5 L758.7 498.7 L759.1 498.9 L759.5 499.1 L759.8 499.4 L760.1 499.7 L760.4 500.0 L760.7 500.4 L760.9 500.8" style="fill:none;stroke:#111;stroke-width:2.2;stroke-linejoin:round;stroke-linecap:round"/>
<ellipse cx="720.4" cy="483.8" rx="3" ry="2.2" transform="rotate(-20 720.4 483.8)" style="fill:#fff;stroke:#111;stroke-width:1.8"/>
<path d="M723.2 484.8 L725.6 487.5" style="stroke:#111;stroke-width:2;stroke-linecap:round"/>
<path d="M741 499 Q746 493 754 495.5 Q762 498 762.5 505 Q762 511 757 512.5 Q750 514 745 510 Q740 505 741 499 Z" class="f"/>
<path d="M755.5 499.5 L759.5 504.5 L756 508.5 L753 504 Z" fill="#fff"/>
<path d="M748 507 Q750 511 754.5 511 M750.5 505.5 Q752 508.5 755 508.6" style="fill:none;stroke:#fff;stroke-width:0.9"/>
<path d="M764.7 462.8 L763.5 472 L761.5 482 L759.5 491" style="fill:none;stroke:#111;stroke-width:2.2;stroke-linecap:round"/>
<!-- 55_rope.py -->
<path d="M670.5 506 Q665 517 662.5 525 Q659 535 657.5 545 Q654 557 653.5 565 Q653 572 654.8 576.5 Q657.5 583.5 664 586 Q671 588 680 585 Q692 580.5 702 577.5 Q714 574 725 573.5 Q738 573.5 750 575.5 Q764 578 778 580.5" style="fill:none;stroke:#111;stroke-width:5;stroke-linecap:butt"/>
<path d="M670.5 506 Q665 517 662.5 525 Q659 535 657.5 545 Q654 557 653.5 565 Q653 572 654.8 576.5 Q657.5 583.5 664 586 Q671 588 680 585 Q692 580.5 702 577.5 Q714 574 725 573.5 Q738 573.5 750 575.5 Q764 578 778 580.5" style="fill:none;stroke:#fff;stroke-width:2.2;stroke-linecap:butt"/>
<path d="M670.5 506 Q665 517 662.5 525 Q659 535 657.5 545 Q654 557 653.5 565 Q653 572 654.8 576.5 Q657.5 583.5 664 586 Q671 588 680 585 Q692 580.5 702 577.5 Q714 574 725 573.5 Q738 573.5 750 575.5 Q764 578 778 580.5" style="fill:none;stroke:#111;stroke-width:1.2;stroke-dasharray:2.4 3.2"/>
<!-- 60_case.py -->
<ellipse cx="857.8" cy="567.9" rx="106.5" ry="70.5" transform="rotate(-53 857.8 567.9)" style="fill:#fff;stroke:#111;stroke-width:2.2"/>
<path d="M889.5 633.3 L883.0 638.3 L876.4 642.8 L869.7 646.7 L863.0 650.1 L856.2 652.9 L849.4 655.1 L842.7 656.6 L836.2 657.5 L829.8 657.8 L823.7 657.4 L817.8 656.4 L812.3 654.7 L807.1 652.4 L802.3 649.5 L797.9 646.1 L794.0 642.0 L790.5 637.4 L787.6 632.4 L785.2 626.8 L783.4 620.9 L782.1 614.5 L781.4 607.9 L781.3 600.9 L781.8 593.7 L782.8 586.4 L784.4 578.9 L786.6 571.3 L789.3 563.7 L792.5 556.2 L796.3 548.8 L800.5 541.5 L805.1 534.4 L810.1 527.5 L815.6 521.0 L821.3 514.8 L827.3 509.0 L833.6 503.7 L840.1 498.8 L846.7 494.4 L853.4 490.6 L860.2 487.4 L867.0 484.7 L873.8 482.7 L880.4 481.3 L886.9 480.5 L893.2 480.4 L899.3 481.0 L905.1 482.1" style="fill:none;stroke:#111;stroke-width:1.5"/>
<path d="M845.7 499.6 L849.9 496.9 L854.1 494.5 L858.3 492.3 L862.6 490.4 L866.8 488.7 L871.1 487.2 L875.3 486.1 L879.5 485.2 L883.6 484.6 L887.6 484.2 L891.5 484.1 L895.4 484.3 L899.1 484.8 L902.7 485.6 L906.2 486.6 L909.5 487.9 L912.7 489.5 L915.7 491.3 L918.5 493.4 L921.1 495.7 L923.5 498.3 L925.7 501.1 L927.7 504.1 L929.5 507.3 L931.0 510.7 L932.3 514.3 L933.4 518.1 L934.2 522.0 L934.8 526.1 L935.1 530.3 L959.9 555.8 L960.0 560.4 L959.7 565.1 L959.2 570.0 L958.3 575.0 L957.1 580.0 L955.6 585.0 L953.8 590.1 L951.7 595.1 L949.3 600.1 L946.7 605.1 L943.8 609.9 L940.6 614.7 L937.3 619.3 L933.7 623.7 L930.0 627.9 L926.1 632.0 L922.0 635.8 L917.8 639.4 L913.5 642.7 L909.1 645.7 L904.7 648.5 L900.2 650.9 L895.6 653.1 L891.1 654.8 L886.6 656.3 L882.2 657.4 L877.8 658.1 L873.5 658.5 L869.3 658.6 L865.3 658.3 L861.4 657.6 L857.7 656.6 L854.1 655.2 L850.8 653.5 L847.7 651.4 L844.9 649.1 L842.3 646.4 L840.0 643.4 L837.9 640.1 L836.2 636.6 L793.6 622.7 L792.2 619.2 L791.1 615.6 L790.1 611.8 L789.5 607.9 L789.0 603.8 L788.8 599.6 L788.8 595.3 L789.1 590.9 L789.6 586.4 L790.3 581.8 L791.3 577.2 L792.5 572.6 L793.9 567.9 L795.6 563.3 L797.4 558.6 L799.5 554.0 L801.8 549.4 L804.2 544.9 L806.9 540.4 L809.7 536.0 L812.7 531.7 L815.9 527.5 L819.2 523.5 L822.7 519.5 L826.3 515.8 L830.0 512.2 L833.8 508.7 L837.7 505.5 L841.6 502.5 L845.7 499.6 Z" style="fill:#fff;stroke:none"/>
<path d="M873.6 486.5 L875.6 486.0 L877.6 485.5 L879.6 485.2 L881.5 484.8 L883.5 484.6 L885.4 484.4 L887.3 484.2 L889.2 484.1 L891.1 484.1 L892.9 484.2 L894.7 484.3 L896.5 484.5 L898.3 484.7 L900.0 485.0 L901.7 485.4 L903.4 485.8 L905.1 486.3 L906.7 486.8 L908.3 487.4 L909.8 488.1 L911.4 488.8 L912.8 489.6 L914.3 490.4 L915.7 491.3 L917.0 492.3 L918.3 493.3 L919.6 494.3 L920.8 495.5 L922.0 496.6 L923.1 497.9 L924.2 499.1 L925.3 500.5 L926.3 501.9 L927.2 503.3 L928.1 504.8 L929.0 506.3 L929.8 507.9 L930.5 509.5 L931.2 511.1 L931.8 512.8 L932.4 514.6 L932.9 516.4 L933.4 518.2 L933.8 520.0 L934.2 521.9 L934.5 523.8 L934.8 525.8 L935.0 527.8" style="fill:none;stroke:#111;stroke-width:2.2;stroke-linecap:round"/>
<path d="M935.0 527.8 L960.0 558.0" style="stroke:#111;stroke-width:2.2;stroke-linecap:round"/>
<path d="M914.9 492.4 L917.4 494.3 L919.7 496.3 L921.9 498.5 L923.9 500.9 L925.8 503.5 L927.4 506.2 L928.9 509.2 L930.2 512.2 L931.4 515.4 L932.3 518.8 L933.1 522.3 L933.6 525.9 L960.0 558.0 L924.5 531.0 L923.8 526.8 L922.9 522.8 L921.6 519.0 L920.0 515.5 L918.2 512.2 L916.0 509.2 Z" class="f"/>
<path d="M883.6 489.9 L903.8 488.3" style="stroke:#111;stroke-width:4.6;stroke-linecap:round"/>
<path d="M883.9 490.2 L899.8 488.8" style="stroke:#fff;stroke-width:1.7;stroke-linecap:round"/>
<path d="M891.0 495.8 L908.4 494.9" style="stroke:#111;stroke-width:4.6;stroke-linecap:round"/>
<path d="M891.3 496.1 L904.4 495.4" style="stroke:#fff;stroke-width:1.7;stroke-linecap:round"/>
<path d="M898.4 502.4 L914.4 500.2" style="stroke:#111;stroke-width:4.6;stroke-linecap:round"/>
<path d="M898.7 502.7 L910.4 500.7" style="stroke:#fff;stroke-width:1.7;stroke-linecap:round"/>
<path d="M904.4 508.3 L927.5 504.7" style="stroke:#111;stroke-width:4.6;stroke-linecap:round"/>
<path d="M904.7 508.6 L923.5 505.2" style="stroke:#fff;stroke-width:1.7;stroke-linecap:round"/>
<path d="M794.4 566 L801.9 554.9 Q826 522 852.3 497.8 L861.2 500.2 L870 491 L884.9 508.9 Q882 512.5 877.5 511.9 L861.2 500.2" style="fill:none;stroke:#111;stroke-width:1.7;stroke-linejoin:round"/>
<path d="M870 491 Q880 486 893 485" style="fill:none;stroke:#111;stroke-width:1.5"/>
<path d="M807.8 549.0 Q826.3 524.9 849.3 504.8" style="fill:none;stroke:#111;stroke-width:6.4;stroke-linecap:round"/>
<path d="M808.8 548.0 Q826.8 525.1 848.3 505.8" style="fill:none;stroke:#fff;stroke-width:0.7;stroke-dasharray:0.8 5.5;opacity:0.8"/>
<path d="M819.7 555.6 Q836.8 532.2 858.2 512.8" style="fill:none;stroke:#111;stroke-width:6.4;stroke-linecap:round"/>
<path d="M820.7 554.6 Q837.2 532.4 857.2 513.8" style="fill:none;stroke:#fff;stroke-width:0.7;stroke-dasharray:0.8 5.5;opacity:0.8"/>
<path d="M830.0 559.8 Q846.3 537.7 867.1 519.6" style="fill:none;stroke:#111;stroke-width:6.4;stroke-linecap:round"/>
<path d="M831.0 558.8 Q846.8 537.9 866.1 520.6" style="fill:none;stroke:#fff;stroke-width:0.7;stroke-dasharray:0.8 5.5;opacity:0.8"/>
<path d="M838.9 564.2 Q853.8 542.9 873.0 525.6" style="fill:none;stroke:#111;stroke-width:6.4;stroke-linecap:round"/>
<path d="M839.9 563.2 Q854.2 543.1 872.0 526.6" style="fill:none;stroke:#fff;stroke-width:0.7;stroke-dasharray:0.8 5.5;opacity:0.8"/>
<circle cx="859" cy="491.4" r="2.1" style="fill:#444;stroke:#111;stroke-width:1.5"/>
<circle cx="794.2" cy="562.6" r="2.1" style="fill:#444;stroke:#111;stroke-width:1.5"/>
<path d="M796 573 L809.5 563 L828.8 576.3 Q828.5 580.5 824.8 580.8 Z" style="fill:#fff;stroke:#111;stroke-width:1.6;stroke-linejoin:round"/>
<path d="M846.3 559.0 L847.8 556.7 L849.4 554.5 L851.1 552.2 L852.8 550.1 L854.5 547.9 L856.3 545.8 L858.1 543.8 L860.0 541.8 L861.9 539.8 L863.9 537.9 L865.8 536.0 L867.8 534.2 L869.9 532.5 L871.9 530.8 L874.0 529.1 L876.1 527.6 L878.3 526.1 L880.4 524.6 L882.6 523.2 L884.7 521.9 L886.9 520.7 L889.1 519.5 L891.3 518.4 L893.5 517.4 L895.7 516.4 L897.9 515.5 L900.1 514.7 L902.3 514.0 L904.5 513.4 L906.7 512.8 L908.8 512.3 L911.0 511.9 L913.1 511.5 L915.2 511.3 L917.3 511.1 L919.4 511.0 L921.4 511.0 L923.4 511.1 L925.4 511.2 L927.3 511.4 L929.2 511.7 L931.1 512.1 L932.9 512.6 L934.7 513.1 L936.5 513.7 L938.2 514.4 L939.8 515.2 L941.4 516.1" style="fill:none;stroke:#111;stroke-width:1.5"/>
<ellipse cx="896.0" cy="587.0" rx="80.5" ry="52.4" transform="rotate(-53 896.0 587.0)" style="fill:#fff;stroke:#111;stroke-width:2.2"/>
<ellipse cx="898.8" cy="590.0" rx="36.0" ry="23.4" transform="rotate(-53 898.8 590.0)" style="fill:#fff;stroke:#111;stroke-width:2.2"/>
<path d="M912.8 561.2 L914.4 561.5 L915.9 561.9 L917.3 562.5 L918.7 563.2 L919.9 564.0 L921.0 565.0 L922.1 566.0 L923.0 567.2 L923.9 568.5 L924.6 570.0 L925.2 571.5 L925.6 573.1 L926.0 574.8 L926.2 576.5 L926.3 578.4 L926.3 580.3 L926.2 582.2 L925.9 584.2 L925.5 586.2 L924.9 588.2 L924.3 590.3 L923.5 592.4 L922.7 594.4 L921.7 596.4 L920.6 598.4 L919.4 600.4 L918.1 602.3 L916.8 604.2 L915.3 606.0 L913.8 607.7 L912.2 609.4 L910.5 610.9 L908.8 612.4 L907.1 613.8 L905.3 615.0 L903.5 616.1 L901.7 617.2 L899.9 618.0 L898.0 618.8 L896.2 619.4 L894.4 619.9 L892.6 620.3 L890.9 620.5 L889.2 620.5 L887.5 620.5 L885.9 620.3 L884.4 619.9 L882.9 619.4" style="fill:none;stroke:#111;stroke-width:1.3"/>
<path d="M939.5 531.8 L940.8 530.5 L942.3 529.7 L943.8 529.6 L944.9 530.1 L945.6 531.2 L945.7 532.7 L945.2 534.4 L944.2 536.0 L926.8 554.9 L926.2 555.6 L925.4 556.0 L924.7 556.0 L924.1 555.8 L923.8 555.2 L923.8 554.5 L924.0 553.6 L924.5 552.8 Z" style="fill:#fff;stroke:#111;stroke-width:2.0;stroke-linejoin:round"/>
<path d="M946.0 538.1 L947.4 537.0 L948.9 536.6 L950.2 536.8 L951.1 537.6 L951.5 538.9 L951.3 540.5 L950.6 542.2 L949.4 543.7 L930.2 559.7 L929.5 560.2 L928.8 560.5 L928.1 560.4 L927.7 560.0 L927.5 559.3 L927.6 558.5 L927.9 557.7 L928.5 556.9 Z" style="fill:#fff;stroke:#111;stroke-width:2.0;stroke-linejoin:round"/>
<path d="M950.6 546.3 L952.1 545.6 L953.5 545.4 L954.7 546.0 L955.3 547.0 L955.4 548.5 L955.0 550.2 L954.0 551.8 L952.6 553.1 L932.4 565.6 L931.6 566.0 L930.9 566.1 L930.4 565.8 L930.0 565.3 L930.0 564.5 L930.2 563.7 L930.7 562.9 L931.4 562.2 Z" style="fill:#fff;stroke:#111;stroke-width:2.0;stroke-linejoin:round"/>
<path d="M953.2 556.2 L954.7 555.8 L956.0 555.9 L956.9 556.8 L957.3 558.1 L957.1 559.7 L956.4 561.4 L955.2 562.8 L953.7 563.9 L933.2 572.4 L932.4 572.6 L931.8 572.5 L931.3 572.1 L931.1 571.5 L931.2 570.7 L931.6 569.8 L932.2 569.1 L932.9 568.6 Z" style="fill:#fff;stroke:#111;stroke-width:2.0;stroke-linejoin:round"/>
<path d="M953.7 567.3 L955.1 567.2 L956.2 567.7 L956.9 568.8 L957.0 570.3 L956.5 572.0 L955.5 573.6 L954.2 574.8 L952.7 575.6 L932.6 579.8 L931.9 579.9 L931.3 579.6 L931.0 579.1 L930.9 578.3 L931.2 577.5 L931.7 576.7 L932.3 576.0 L933.1 575.7 Z" style="fill:#fff;stroke:#111;stroke-width:2.0;stroke-linejoin:round"/>
<path d="M952.0 579.3 L953.3 579.5 L954.2 580.3 L954.6 581.6 L954.4 583.2 L953.6 584.9 L952.5 586.3 L951.0 587.4 L949.5 587.8 L930.7 587.5 L930.0 587.4 L929.6 587.0 L929.4 586.4 L929.5 585.6 L929.9 584.7 L930.4 584.0 L931.2 583.5 L931.9 583.3 Z" style="fill:#fff;stroke:#111;stroke-width:2.0;stroke-linejoin:round"/>
<path d="M948.2 591.6 L949.3 592.1 L950.0 593.2 L950.1 594.7 L949.6 596.3 L948.6 597.9 L947.3 599.2 L945.8 600.0 L944.4 600.1 L927.5 595.3 L927.0 595.1 L926.6 594.5 L926.6 593.8 L926.8 592.9 L927.3 592.1 L928.0 591.5 L928.7 591.1 L929.4 591.1 Z" style="fill:#fff;stroke:#111;stroke-width:2.0;stroke-linejoin:round"/>
<path d="M942.4 603.7 L943.4 604.6 L943.8 605.9 L943.6 607.5 L942.8 609.2 L941.6 610.6 L940.2 611.7 L938.7 612.1 L937.4 611.9 L923.2 602.8 L922.7 602.4 L922.5 601.8 L922.6 601.0 L923.0 600.1 L923.6 599.4 L924.3 598.9 L925.1 598.7 L925.7 598.8 Z" style="fill:#fff;stroke:#111;stroke-width:2.0;stroke-linejoin:round"/>
<path d="M935.0 615.3 L935.7 616.4 L935.8 617.9 L935.3 619.6 L934.3 621.2 L933.0 622.5 L931.5 623.2 L930.0 623.4 L928.9 622.9 L917.9 609.8 L917.5 609.3 L917.5 608.5 L917.7 607.7 L918.2 606.9 L918.9 606.3 L919.6 605.9 L920.3 605.8 L920.9 606.1 Z" style="fill:#fff;stroke:#111;stroke-width:2.0;stroke-linejoin:round"/>
<path d="M926.1 625.9 L926.5 627.2 L926.3 628.8 L925.6 630.5 L924.4 632.0 L922.9 633.0 L921.4 633.5 L920.1 633.3 L919.2 632.5 L911.8 616.0 L911.6 615.3 L911.7 614.5 L912.0 613.7 L912.6 613.0 L913.4 612.4 L914.1 612.2 L914.8 612.3 L915.2 612.7 Z" style="fill:#fff;stroke:#111;stroke-width:2.0;stroke-linejoin:round"/>
<path d="M916.1 635.1 L916.2 636.5 L915.7 638.2 L914.8 639.8 L913.4 641.1 L911.9 641.9 L910.5 642.0 L909.4 641.5 L908.7 640.4 L905.1 621.1 L905.1 620.3 L905.3 619.5 L905.8 618.7 L906.5 618.1 L907.2 617.7 L907.9 617.6 L908.5 617.9 L908.8 618.4 Z" style="fill:#fff;stroke:#111;stroke-width:2.0;stroke-linejoin:round"/>
<path d="M905.4 642.4 L905.2 644.0 L904.5 645.7 L903.3 647.2 L901.8 648.2 L900.4 648.6 L899.1 648.5 L898.1 647.6 L897.7 646.3 L898.2 625.0 L898.3 624.1 L898.7 623.3 L899.3 622.6 L900.0 622.1 L900.7 621.8 L901.4 621.9 L901.8 622.3 L902.0 623.0 Z" style="fill:#fff;stroke:#111;stroke-width:2.0;stroke-linejoin:round"/>
<path d="M894.4 647.7 L893.9 649.4 L893.0 651.0 L891.6 652.2 L890.1 653.0 L888.7 653.1 L887.6 652.6 L886.9 651.5 L886.8 650.0 L891.3 627.4 L891.5 626.6 L892.0 625.8 L892.7 625.1 L893.4 624.8 L894.1 624.7 L894.7 625.0 L895.0 625.5 L895.1 626.2 Z" style="fill:#fff;stroke:#111;stroke-width:2.0;stroke-linejoin:round"/>
<path d="M883.5 650.7 L882.8 652.4 L881.6 653.8 L880.2 654.9 L878.7 655.3 L877.4 655.1 L876.5 654.3 L876.1 653.0 L876.2 651.4 L884.5 628.4 L884.9 627.6 L885.5 626.8 L886.2 626.3 L887.0 626.1 L887.6 626.2 L888.1 626.6 L888.3 627.2 L888.2 628.0 Z" style="fill:#fff;stroke:#111;stroke-width:2.0;stroke-linejoin:round"/>
<path d="M873.2 651.3 L872.2 652.9 L870.9 654.2 L869.4 655.0 L868.0 655.1 L866.8 654.6 L866.2 653.5 L866.1 652.0 L866.5 650.3 L878.3 627.8 L878.8 627.0 L879.5 626.4 L880.2 626.0 L881.0 625.9 L881.5 626.2 L881.9 626.7 L881.9 627.5 L881.7 628.3 Z" style="fill:#fff;stroke:#111;stroke-width:2.0;stroke-linejoin:round"/>
<path d="M863.8 649.6 L862.6 651.0 L861.2 652.1 L859.7 652.5 L858.4 652.3 L857.5 651.5 L857.1 650.2 L857.3 648.6 L858.0 646.9 L872.9 625.8 L873.5 625.0 L874.2 624.5 L874.9 624.3 L875.6 624.4 L876.0 624.8 L876.2 625.4 L876.1 626.3 L875.8 627.1 Z" style="fill:#fff;stroke:#111;stroke-width:2.0;stroke-linejoin:round"/>
<path d="M855.7 645.4 L854.4 646.7 L852.9 647.5 L851.4 647.6 L850.3 647.1 L849.6 646.0 L849.5 644.5 L850.0 642.8 L851.0 641.2 L868.4 622.3 L869.0 621.6 L869.8 621.2 L870.5 621.2 L871.1 621.4 L871.4 622.0 L871.4 622.7 L871.2 623.6 L870.7 624.4 Z" style="fill:#fff;stroke:#111;stroke-width:2.0;stroke-linejoin:round"/>
<path d="M849.2 639.1 L847.8 640.2 L846.3 640.6 L845.0 640.4 L844.1 639.6 L843.7 638.3 L843.9 636.7 L844.6 635.0 L845.8 633.5 L865.0 617.5 L865.7 617.0 L866.4 616.7 L867.1 616.8 L867.5 617.2 L867.7 617.9 L867.6 618.7 L867.3 619.5 L866.7 620.3 Z" style="fill:#fff;stroke:#111;stroke-width:2.0;stroke-linejoin:round"/>
<path d="M844.6 630.9 L843.1 631.6 L841.7 631.8 L840.5 631.2 L839.9 630.2 L839.8 628.7 L840.2 627.0 L841.2 625.4 L842.6 624.1 L862.8 611.6 L863.6 611.2 L864.3 611.1 L864.8 611.4 L865.2 611.9 L865.2 612.7 L865.0 613.5 L864.5 614.3 L863.8 615.0 Z" style="fill:#fff;stroke:#111;stroke-width:2.0;stroke-linejoin:round"/>
<path d="M842.0 621.0 L840.5 621.4 L839.2 621.3 L838.3 620.4 L837.9 619.1 L838.1 617.5 L838.8 615.8 L840.0 614.4 L841.5 613.3 L862.0 604.8 L862.8 604.6 L863.4 604.7 L863.9 605.1 L864.1 605.7 L864.0 606.5 L863.6 607.4 L863.0 608.1 L862.3 608.6 Z" style="fill:#fff;stroke:#111;stroke-width:2.0;stroke-linejoin:round"/>
<path d="M841.5 609.9 L840.1 610.0 L839.0 609.5 L838.3 608.4 L838.2 606.9 L838.7 605.2 L839.7 603.6 L841.0 602.4 L842.5 601.6 L862.6 597.4 L863.3 597.3 L863.9 597.6 L864.2 598.1 L864.3 598.9 L864.0 599.7 L863.5 600.5 L862.9 601.2 L862.1 601.5 Z" style="fill:#fff;stroke:#111;stroke-width:2.0;stroke-linejoin:round"/>
<path d="M843.2 597.9 L841.9 597.7 L841.0 596.9 L840.6 595.6 L840.8 594.0 L841.6 592.3 L842.7 590.9 L844.2 589.8 L845.7 589.4 L864.5 589.7 L865.2 589.8 L865.6 590.2 L865.8 590.8 L865.7 591.6 L865.3 592.5 L864.8 593.2 L864.0 593.7 L863.3 593.9 Z" style="fill:#fff;stroke:#111;stroke-width:2.0;stroke-linejoin:round"/>
<path d="M847.0 585.6 L845.9 585.1 L845.2 584.0 L845.1 582.5 L845.6 580.9 L846.6 579.3 L847.9 578.0 L849.4 577.2 L850.8 577.1 L867.7 581.9 L868.2 582.1 L868.6 582.7 L868.6 583.4 L868.4 584.3 L867.9 585.1 L867.2 585.7 L866.5 586.1 L865.8 586.1 Z" style="fill:#fff;stroke:#111;stroke-width:2.0;stroke-linejoin:round"/>
<path d="M852.8 573.5 L851.8 572.6 L851.4 571.3 L851.6 569.7 L852.4 568.0 L853.6 566.6 L855.0 565.5 L856.5 565.1 L857.8 565.3 L872.0 574.4 L872.5 574.8 L872.7 575.4 L872.6 576.2 L872.2 577.1 L871.6 577.8 L870.9 578.3 L870.1 578.5 L869.5 578.4 Z" style="fill:#fff;stroke:#111;stroke-width:2.0;stroke-linejoin:round"/>
<path d="M860.2 561.9 L859.5 560.8 L859.4 559.3 L859.9 557.6 L860.9 556.0 L862.2 554.7 L863.7 554.0 L865.2 553.8 L866.3 554.3 L877.3 567.4 L877.7 567.9 L877.7 568.7 L877.5 569.5 L877.0 570.3 L876.3 570.9 L875.6 571.3 L874.9 571.4 L874.3 571.1 Z" style="fill:#fff;stroke:#111;stroke-width:2.0;stroke-linejoin:round"/>
<path d="M869.1 551.3 L868.7 550.0 L868.9 548.4 L869.6 546.7 L870.8 545.2 L872.3 544.2 L873.8 543.7 L875.1 543.9 L876.0 544.7 L883.4 561.2 L883.6 561.9 L883.5 562.7 L883.2 563.5 L882.6 564.2 L881.8 564.8 L881.1 565.0 L880.4 564.9 L880.0 564.5 Z" style="fill:#fff;stroke:#111;stroke-width:2.0;stroke-linejoin:round"/>
<path d="M879.1 542.1 L879.0 540.7 L879.5 539.0 L880.4 537.4 L881.8 536.1 L883.3 535.3 L884.7 535.2 L885.8 535.7 L886.5 536.8 L890.1 556.1 L890.1 556.9 L889.9 557.7 L889.4 558.5 L888.7 559.1 L888.0 559.5 L887.3 559.6 L886.7 559.3 L886.4 558.8 Z" style="fill:#fff;stroke:#111;stroke-width:2.0;stroke-linejoin:round"/>
<path d="M889.8 534.8 L890.0 533.2 L890.7 531.5 L891.9 530.0 L893.4 529.0 L894.8 528.6 L896.1 528.7 L897.1 529.6 L897.5 530.9 L897.0 552.2 L896.9 553.1 L896.5 553.9 L895.9 554.6 L895.2 555.1 L894.5 555.4 L893.8 555.3 L893.4 554.9 L893.2 554.2 Z" style="fill:#fff;stroke:#111;stroke-width:2.0;stroke-linejoin:round"/>
<path d="M900.8 529.5 L901.3 527.8 L902.2 526.2 L903.6 525.0 L905.1 524.2 L906.5 524.1 L907.6 524.6 L908.3 525.7 L908.4 527.2 L903.9 549.8 L903.7 550.6 L903.2 551.4 L902.5 552.1 L901.8 552.4 L901.1 552.5 L900.5 552.2 L900.2 551.7 L900.1 551.0 Z" style="fill:#fff;stroke:#111;stroke-width:2.0;stroke-linejoin:round"/>
<path d="M911.7 526.5 L912.4 524.8 L913.6 523.4 L915.0 522.3 L916.5 521.9 L917.8 522.1 L918.7 522.9 L919.1 524.2 L919.0 525.8 L910.7 548.8 L910.3 549.6 L909.7 550.4 L909.0 550.9 L908.2 551.1 L907.6 551.0 L907.1 550.6 L906.9 550.0 L907.0 549.2 Z" style="fill:#fff;stroke:#111;stroke-width:2.0;stroke-linejoin:round"/>
<path d="M922.0 525.9 L923.0 524.3 L924.3 523.0 L925.8 522.2 L927.2 522.1 L928.4 522.6 L929.0 523.7 L929.1 525.2 L928.7 526.9 L916.9 549.4 L916.4 550.2 L915.7 550.8 L915.0 551.2 L914.2 551.3 L913.7 551.0 L913.3 550.5 L913.3 549.7 L913.5 548.9 Z" style="fill:#fff;stroke:#111;stroke-width:2.0;stroke-linejoin:round"/>
<path d="M931.4 527.6 L932.6 526.2 L934.0 525.1 L935.5 524.7 L936.8 524.9 L937.7 525.7 L938.1 527.0 L937.9 528.6 L937.2 530.3 L922.3 551.4 L921.7 552.2 L921.0 552.7 L920.3 552.9 L919.6 552.8 L919.2 552.4 L919.0 551.8 L919.1 550.9 L919.4 550.1 Z" style="fill:#fff;stroke:#111;stroke-width:2.0;stroke-linejoin:round"/>
<path d="M787 623.5 Q800 621 809.5 622.3 Q822 628 832 639" style="fill:none;stroke:#111;stroke-width:1.5"/>
<path d="M809.5 622.3 L818 609 L834 607" style="fill:none;stroke:#111;stroke-width:1.4"/>
<ellipse cx="794.7" cy="625.2" rx="1.7" ry="2.7" transform="rotate(-20 794.7 625.2)" style="fill:#fff;stroke:#111;stroke-width:1.9"/>
<ellipse cx="803.6" cy="629.7" rx="1.7" ry="2.7" transform="rotate(-20 803.6 629.7)" style="fill:#fff;stroke:#111;stroke-width:1.9"/>
<ellipse cx="815.4" cy="634.1" rx="1.7" ry="2.7" transform="rotate(-20 815.4 634.1)" style="fill:#fff;stroke:#111;stroke-width:1.9"/>
<ellipse cx="825.8" cy="636.4" rx="1.7" ry="2.7" transform="rotate(-20 825.8 636.4)" style="fill:#fff;stroke:#111;stroke-width:1.9"/>
<path d="M792 630.5 Q794 634 797.5 633 M800 634.5 Q802 639.5 806 638" style="fill:none;stroke:#111;stroke-width:1.8;stroke-linecap:round"/>
<path d="M806.8 643.2 L828.6 648.6" style="stroke:#111;stroke-width:6;stroke-linecap:round"/>
<path d="M806.8 643.2 L828.6 648.6" style="stroke:#fff;stroke-width:3;stroke-linecap:round"/>
<path d="M812 647.2 L827 650.6" style="stroke:#111;stroke-width:1.6;stroke-linecap:round"/>
<!-- 65_handle.py -->
<path d="M744.5 641.5 Q752 641.5 757.5 638 Q762 634.5 765 629.7 Q770 620.5 776.9 614.5 Q785 607.5 794.7 605.8 Q803 605 809.5 607.3 Q815 609.3 817.2 612.2" style="fill:none;stroke:#111;stroke-width:5.6;stroke-linecap:round"/>
<path d="M744.5 641.5 Q752 641.5 757.5 638 Q762 634.5 765 629.7 Q770 620.5 776.9 614.5 Q785 607.5 794.7 605.8 Q803 605 809.5 607.3 Q815 609.3 817.2 612.2" style="fill:none;stroke:#fff;stroke-width:2.6;stroke-linecap:round"/>
<path d="M818.8 610.5 Q821 614.5 816.5 616.3 Q812.5 617 810.5 614.5" style="fill:none;stroke:#111;stroke-width:1.6;stroke-linecap:round"/>
<path d="M812 611.5 Q816 608.5 820.5 611.5" style="fill:none;stroke:#111;stroke-width:1.4"/>
<path d="M717.5 628.8 Q719.3 627.4 721 629 L728.5 636.6 L725.2 639.6 L717.5 632 Q716 630.2 717.5 628.8 Z" style="fill:#fff;stroke:#111;stroke-width:1.8;stroke-linejoin:round"/>
<path d="M726 637.5 Q729 634.5 733 636.5 Q736.5 633.5 741 634.2 Q745.8 635.5 746.2 640 Q746.8 645.5 744 649.5 Q740.5 653 735.5 652.6 Q731.5 653.2 728.3 650.8 Q725.3 648.5 725.5 645 Q722.8 641.5 726 637.5 Z" style="fill:#fff;stroke:#111;stroke-width:1.8;stroke-linejoin:round"/>
<path d="M733 636.5 Q730.5 640.5 732.5 645 Q735 650 740.5 650.5 M735.5 639 Q736.5 635.8 740 636.5 Q743 637.5 743.2 640.8 M725.5 645 Q728.5 643.5 731.5 646.5 M737 641 Q738 646 743.5 647.5" style="fill:none;stroke:#111;stroke-width:1.5;stroke-linecap:round"/>
<path d="M656.3 651.5 L659.6 642.5 L667.5 632.6 Q672 631.5 676.5 632.4 L684.4 635.8 L688.9 640.3 L692.3 631.3 Q694.5 628.5 698 628.4 Q704 628 708.1 631.3 Q712.5 634.5 712.6 638.2 Q711.5 643 708.1 647 L699.1 658.3 L693.5 665.1 L693.5 673 L701.3 678.6 Q704.5 682.5 703.6 686.5 L698 694.4 L687.8 704.5 Q681 706.5 674.3 705.6 L667.5 698.9 L659.6 676.3 L656.3 659.4 Z" style="fill:#fff;stroke:#111;stroke-width:2.0;stroke-linejoin:round"/>
<path d="M657.4 650.6 L672 648.2 L677.5 634 M672 648.2 L674 655" style="fill:none;stroke:#111;stroke-width:1.5;stroke-linejoin:round"/>
<path d="M661.9 657.2 L673.2 654.9 L684.4 697.7 L675.8 700 Z" style="fill:#fff;stroke:#111;stroke-width:1.7;stroke-linejoin:round"/>
<path d="M665 659.2 L670.5 658 L681 695.5 L676.8 697.6 Z" style="fill:none;stroke:#111;stroke-width:1.2;stroke-linejoin:round"/>
<path d="M676.5 697.5 L681.5 694 L679 701" style="fill:none;stroke:#111;stroke-width:1.2"/>
<path d="M694.6 634.6 Q700 632 704 635.5 Q707.5 639 708.1 647 M689.5 641 L694.6 634.6" style="fill:none;stroke:#111;stroke-width:1.6;stroke-linecap:round"/>
<path d="M688.9 640.3 L690 650 L699.1 637.5" style="fill:none;stroke:#111;stroke-width:1.4;stroke-linejoin:round"/>
<path d="M681.8 641.8 L687 654.6" style="stroke:#111;stroke-width:4;stroke-linecap:round"/>
<path d="M681.8 641.8 L687 654.6" style="stroke:#fff;stroke-width:1.6;stroke-linecap:round"/>
<path d="M671.5 648.5 L676.5 643.5 L679 646 L677 650 L680.5 654 L678 658 L681 662.5 L678.5 665 L675 660 L676 655.5 L672 652.5 Z" class="f"/>
<path d="M683.5 680.5 L690 678.5 L694 682 L692 686 L694.6 689 L691.5 692 L689.5 688.5 L690.5 694.4 L688 695 L686.5 688 L683.3 685.5 Z" class="f"/>
<path d="M694.5 674 L697.5 688 M693.8 681 L695.5 689" style="fill:none;stroke:#111;stroke-width:1.3"/>
<!-- 70_fasteners.py -->
<g transform="translate(989.3 589.7) rotate(22)">
<ellipse cx="0" cy="0" rx="6.6" ry="8.6" style="fill:none;stroke:#3a3a3a;stroke-width:1.7;stroke-dasharray:3.2 0.9"/>
<ellipse cx="0.1" cy="0.1" rx="3.4" ry="4.8" style="fill:none;stroke:#3a3a3a;stroke-width:1.5;stroke-dasharray:14 3"/>
<path d="M-6 3.5 L-7.4 5.2 M-5.6 -4 L-7.4 -3.6 M2 -8 L2.6 -9.4" style="stroke:#3a3a3a;stroke-width:1.2"/>
</g>
<g transform="translate(973.2 652.3) rotate(22)">
<ellipse cx="0" cy="0" rx="6.6" ry="8.6" style="fill:none;stroke:#3a3a3a;stroke-width:1.7;stroke-dasharray:3.2 0.9"/>
<ellipse cx="0.1" cy="0.1" rx="3.4" ry="4.8" style="fill:none;stroke:#3a3a3a;stroke-width:1.5;stroke-dasharray:14 3"/>
<path d="M-6 3.5 L-7.4 5.2 M-5.6 -4 L-7.4 -3.6 M2 -8 L2.6 -9.4" style="stroke:#3a3a3a;stroke-width:1.2"/>
</g>
<g transform="translate(926.5 712.1) rotate(22)">
<ellipse cx="0" cy="0" rx="6.6" ry="8.6" style="fill:none;stroke:#3a3a3a;stroke-width:1.7;stroke-dasharray:3.2 0.9"/>
<ellipse cx="0.1" cy="0.1" rx="3.4" ry="4.8" style="fill:none;stroke:#3a3a3a;stroke-width:1.5;stroke-dasharray:14 3"/>
<path d="M-6 3.5 L-7.4 5.2 M-5.6 -4 L-7.4 -3.6 M2 -8 L2.6 -9.4" style="stroke:#3a3a3a;stroke-width:1.2"/>
</g>
<g transform="translate(1022.3 606.0) rotate(25.5)">
<path d="M-8 -2.4 L-24.5 -2.3 Q-26.8 0 -24.5 2.3 L-8 2.4 Z" class="f"/>
<path d="M-23 0 L-9 0" style="stroke:#fff;stroke-width:1.0;stroke-dasharray:1.3 1.7;opacity:0.9"/>
<ellipse cx="-4.6" cy="0" rx="2.5" ry="7.0" class="f"/>
<path d="M-3.4 -6 Q-1.4 0 -3.4 6" style="fill:none;stroke:#ddd;stroke-width:0.9"/>
<path d="M-3.2 -5.2 L4 -5 Q7.6 -3.5 7.8 0 Q7.6 3.5 4 5 L-3.2 5.2 Z" style="fill:#fff;stroke:#111;stroke-width:1.8;stroke-linejoin:round"/>
<path d="M-3 -5 L3.6 -5 L4 -3 L-2.6 -2.8 Z" class="f"/>
<path d="M-2.4 2.2 L1.6 2.2 M0.6 -2 L0.8 5" style="fill:none;stroke:#111;stroke-width:1.1"/>
<ellipse cx="4.4" cy="0.4" rx="3.1" ry="4.2" style="fill:#fff;stroke:#111;stroke-width:1.4"/>
</g>
<g transform="translate(1008.8 671.2) rotate(25.5)">
<path d="M-8 -2.4 L-24.5 -2.3 Q-26.8 0 -24.5 2.3 L-8 2.4 Z" class="f"/>
<path d="M-23 0 L-9 0" style="stroke:#fff;stroke-width:1.0;stroke-dasharray:1.3 1.7;opacity:0.9"/>
<ellipse cx="-4.6" cy="0" rx="2.5" ry="7.0" class="f"/>
<path d="M-3.4 -6 Q-1.4 0 -3.4 6" style="fill:none;stroke:#ddd;stroke-width:0.9"/>
<path d="M-3.2 -5.2 L4 -5 Q7.6 -3.5 7.8 0 Q7.6 3.5 4 5 L-3.2 5.2 Z" style="fill:#fff;stroke:#111;stroke-width:1.8;stroke-linejoin:round"/>
<path d="M-3 -5 L3.6 -5 L4 -3 L-2.6 -2.8 Z" class="f"/>
<path d="M-2.4 2.2 L1.6 2.2 M0.6 -2 L0.8 5" style="fill:none;stroke:#111;stroke-width:1.1"/>
<ellipse cx="4.4" cy="0.4" rx="3.1" ry="4.2" style="fill:#fff;stroke:#111;stroke-width:1.4"/>
</g>
<g transform="translate(960.5 727.0) rotate(25.5)">
<path d="M-8 -2.4 L-24.5 -2.3 Q-26.8 0 -24.5 2.3 L-8 2.4 Z" class="f"/>
<path d="M-23 0 L-9 0" style="stroke:#fff;stroke-width:1.0;stroke-dasharray:1.3 1.7;opacity:0.9"/>
<ellipse cx="-4.6" cy="0" rx="2.5" ry="7.0" class="f"/>
<path d="M-3.4 -6 Q-1.4 0 -3.4 6" style="fill:none;stroke:#ddd;stroke-width:0.9"/>
<path d="M-3.2 -5.2 L4 -5 Q7.6 -3.5 7.8 0 Q7.6 3.5 4 5 L-3.2 5.2 Z" style="fill:#fff;stroke:#111;stroke-width:1.8;stroke-linejoin:round"/>
<path d="M-3 -5 L3.6 -5 L4 -3 L-2.6 -2.8 Z" class="f"/>
<path d="M-2.4 2.2 L1.6 2.2 M0.6 -2 L0.8 5" style="fill:none;stroke:#111;stroke-width:1.1"/>
<ellipse cx="4.4" cy="0.4" rx="3.1" ry="4.2" style="fill:#fff;stroke:#111;stroke-width:1.4"/>
</g>
<!-- 90_labels.py -->
<g transform="translate(375.00 378.80) scale(1.120 1)"><text x="-6.26" y="0" font-size="22.5" style="fill:#1c1c1c;stroke:#1c1c1c;stroke-width:0.25">2</text></g>
<path class="l" style="stroke-width:1.3" d="M374.30 329.00 L374.30 355.00"/>
<g transform="translate(423.80 415.00) scale(1.120 1)"><text x="-6.26" y="0" font-size="22.5" style="fill:#1c1c1c;stroke:#1c1c1c;stroke-width:0.25">3</text></g>
<path class="l" style="stroke-width:1.3" d="M423.80 372.50 L423.80 392.50"/>
<g transform="translate(462.00 327.70) scale(1.120 1)"><text x="-6.53" y="0" font-size="23.5" style="fill:#1c1c1c;stroke:#1c1c1c;stroke-width:0.25">4</text></g>
<path class="l" style="stroke-width:1.3" d="M463.20 332.50 L463.20 356.00"/>
<g transform="translate(476.30 446.00) scale(1.120 1)"><text x="-6.26" y="0" font-size="22.5" style="fill:#1c1c1c;stroke:#1c1c1c;stroke-width:0.25">5</text></g>
<path class="l" style="stroke-width:1.3" d="M477.00 401.00 L477.00 425.00"/>
<g transform="translate(514.30 448.80) scale(1.120 1)"><text x="-6.26" y="0" font-size="22.5" style="fill:#1c1c1c;stroke:#1c1c1c;stroke-width:0.25">5</text></g>
<path class="l" style="stroke-width:1.3" d="M513.80 394.00 L513.80 428.50"/>
<g transform="translate(545.80 366.00) scale(1.120 1)"><text x="-6.26" y="0" font-size="22.5" style="fill:#1c1c1c;stroke:#1c1c1c;stroke-width:0.25">6</text></g>
<path class="l" style="stroke-width:1.8" d="M546.30 371.00 L546.50 402.00"/>
<g transform="translate(568.50 372.50) scale(1.120 1)"><text x="-6.26" y="0" font-size="22.5" style="fill:#1c1c1c;stroke:#1c1c1c;stroke-width:0.25">6</text></g>
<path class="l" style="stroke-width:1.8" d="M568.40 379.00 L568.80 412.00"/>
<g transform="translate(634.80 341.30) scale(1.120 1)"><text x="-6.26" y="0" font-size="22.5" style="fill:#1c1c1c;stroke:#1c1c1c;stroke-width:0.25">7</text></g>
<path class="l" style="stroke-width:1.3" d="M636.30 345.00 L636.30 380.00"/>
<g transform="translate(763.30 408.00) scale(1.120 1)"><text x="-6.26" y="0" font-size="22.5" style="fill:#1c1c1c;stroke:#1c1c1c;stroke-width:0.25">8</text></g>
<path class="l" style="stroke-width:1.3" d="M762.50 415.00 L762.50 460.00"/>
<g transform="translate(828.50 453.80) scale(1.120 1)"><text x="-6.26" y="0" font-size="22.5" style="fill:#1c1c1c;stroke:#1c1c1c;stroke-width:0.25">9</text></g>
<path class="l" style="stroke-width:1.3" d="M830.00 460.00 L830.00 490.00"/>
<g transform="translate(740.60 608.80) scale(1.120 1)"><text x="-12.51" y="0" font-size="22.5" style="fill:#1c1c1c;stroke:#1c1c1c;stroke-width:0.25">10</text><rect x="-11.85" y="-2.23" width="4.70" height="4.08" fill="#fff"/><rect x="-4.57" y="-2.23" width="4.55" height="4.08" fill="#fff"/></g>
<path class="l" style="stroke-width:1.3" d="M739.30 615.00 L739.30 633.50"/>
<g transform="translate(609.90 670.00) scale(1.120 1)"><text x="-12.51" y="0" font-size="22.5" style="fill:#1c1c1c;stroke:#1c1c1c;stroke-width:0.25">11</text><rect x="-11.85" y="-2.23" width="4.70" height="4.08" fill="#fff"/><rect x="-4.57" y="-2.23" width="4.55" height="4.08" fill="#fff"/><rect x="0.66" y="-2.23" width="4.70" height="4.08" fill="#fff"/><rect x="7.95" y="-2.23" width="4.55" height="4.08" fill="#fff"/></g>
<path class="l" style="stroke-width:1.3" d="M627.50 664.30 L656.00 664.30"/>
<g transform="translate(420.00 639.50) scale(1.120 1)"><text x="-6.26" y="0" font-size="22.5" style="fill:#1c1c1c;stroke:#1c1c1c;stroke-width:0.25">1</text><rect x="-5.60" y="-2.23" width="4.70" height="4.08" fill="#fff"/><rect x="1.69" y="-2.23" width="4.55" height="4.08" fill="#fff"/></g>
<path class="l" style="stroke-width:1.3" d="M420.60 594.60 L420.60 615.40"/>
<g transform="translate(205.30 473.60) scale(1.120 1)"><text x="-13.07" y="0" font-size="23.5" style="fill:#1c1c1c;stroke:#1c1c1c;stroke-width:0.25">17</text><rect x="-12.38" y="-2.31" width="4.92" height="4.16" fill="#fff"/><rect x="-4.78" y="-2.31" width="4.75" height="4.16" fill="#fff"/></g>
<path class="l" style="stroke-width:1.3" d="M177.30 464.30 L185.60 464.30"/>
<g transform="translate(991.60 559.50) scale(1.120 1)"><text x="-12.51" y="0" font-size="22.5" style="fill:#1c1c1c;stroke:#1c1c1c;stroke-width:0.25">12</text><rect x="-11.85" y="-2.23" width="4.70" height="4.08" fill="#fff"/><rect x="-4.57" y="-2.23" width="4.55" height="4.08" fill="#fff"/></g>
<path class="l" style="stroke-width:1.1" d="M990.50 564.00 L990.50 580.50"/>
<g transform="translate(975.60 622.50) scale(1.120 1)"><text x="-12.51" y="0" font-size="22.5" style="fill:#1c1c1c;stroke:#1c1c1c;stroke-width:0.25">12</text><rect x="-11.85" y="-2.23" width="4.70" height="4.08" fill="#fff"/><rect x="-4.57" y="-2.23" width="4.55" height="4.08" fill="#fff"/></g>
<path class="l" style="stroke-width:1.1" d="M974.30 627.50 L974.30 643.50"/>
<g transform="translate(929.00 682.00) scale(1.120 1)"><text x="-12.51" y="0" font-size="22.5" style="fill:#1c1c1c;stroke:#1c1c1c;stroke-width:0.25">12</text><rect x="-11.85" y="-2.23" width="4.70" height="4.08" fill="#fff"/><rect x="-4.57" y="-2.23" width="4.55" height="4.08" fill="#fff"/></g>
<path class="l" style="stroke-width:1.1" d="M928.20 687.50 L928.20 702.60"/>
<g transform="translate(97.95 145.50) scale(1.500 1)"><text x="0" y="0" font-size="18.9" letter-spacing="0.38" style="fill:#2b2b2b;stroke:#2b2b2b;stroke-width:0.90">14</text><rect x="0.55" y="-2.26" width="3.75" height="4.41" fill="#fff"/><rect x="6.87" y="-2.26" width="3.82" height="4.41" fill="#fff"/></g>
<path class="l" style="stroke-width:1.3" d="M116.30 149.50 L116.30 180.50"/>
<g transform="translate(360.45 136.50) scale(1.500 1)"><text x="0" y="0" font-size="18.9" letter-spacing="0.72" style="fill:#2b2b2b;stroke:#2b2b2b;stroke-width:0.90">15</text><rect x="0.55" y="-2.26" width="3.75" height="4.41" fill="#fff"/><rect x="6.87" y="-2.26" width="3.82" height="4.41" fill="#fff"/></g>
<path class="l" style="stroke-width:1.3" d="M378.00 142.50 L378.00 151.00"/>
<g transform="translate(338.65 694.50) scale(1.500 1)"><text x="0" y="0" font-size="18.9" letter-spacing="0.58" style="fill:#2b2b2b;stroke:#2b2b2b;stroke-width:0.90">16</text><rect x="0.55" y="-2.26" width="3.75" height="4.41" fill="#fff"/><rect x="6.87" y="-2.26" width="3.82" height="4.41" fill="#fff"/></g>
<path class="l" style="stroke-width:1.3" d="M355.40 629.70 L355.40 673.00"/>
<g transform="translate(211.75 38.50) scale(1.500 1)"><text x="0" y="0" font-size="18.9" letter-spacing="-0.15" style="fill:#2b2b2b;stroke:#2b2b2b;stroke-width:0.90">18</text><rect x="0.55" y="-2.26" width="3.75" height="4.41" fill="#fff"/><rect x="6.87" y="-2.26" width="3.82" height="4.41" fill="#fff"/></g>
<path class="l" style="stroke-width:1.3" d="M226.30 41.30 L226.30 58.00"/>
<g transform="translate(1004.45 574.50) scale(1.500 1)"><text x="0" y="0" font-size="18.9" letter-spacing="0.38" style="fill:#2b2b2b;stroke:#2b2b2b;stroke-width:0.90">13</text><rect x="0.55" y="-2.26" width="3.75" height="4.41" fill="#fff"/><rect x="6.87" y="-2.26" width="3.82" height="4.41" fill="#fff"/></g>
<path class="l" style="stroke-width:1.1" d="M1022.70 578.80 L1022.70 598.00"/>
<g transform="translate(988.95 637.50) scale(1.500 1)"><text x="0" y="0" font-size="18.9" letter-spacing="0.05" style="fill:#2b2b2b;stroke:#2b2b2b;stroke-width:0.90">13</text><rect x="0.55" y="-2.26" width="3.75" height="4.41" fill="#fff"/><rect x="6.87" y="-2.26" width="3.82" height="4.41" fill="#fff"/></g>
<path class="l" style="stroke-width:1.1" d="M1006.60 642.50 L1007.20 662.00"/>
<g transform="translate(945.45 693.80) scale(1.500 1)"><text x="0" y="0" font-size="18.9" letter-spacing="-0.95" style="fill:#2b2b2b;stroke:#2b2b2b;stroke-width:0.90">13</text><rect x="0.55" y="-2.26" width="3.75" height="4.41" fill="#fff"/><rect x="6.87" y="-2.26" width="3.82" height="4.41" fill="#fff"/></g>
<path class="l" style="stroke-width:1.1" d="M961.30 698.90 L961.30 719.70"/>
</svg>
</body></html>
